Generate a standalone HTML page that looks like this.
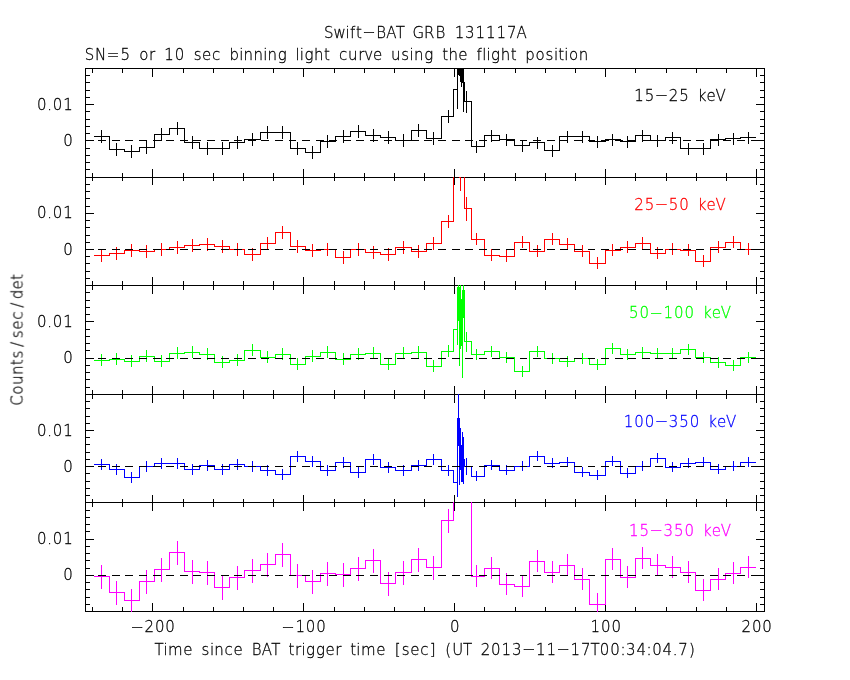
<!DOCTYPE html>
<html lang="en"><head><meta charset="utf-8"><title>Swift-BAT GRB 131117A light curve</title>
<style>
html,body{margin:0;padding:0;background:#fff;}
svg{display:block;}
text{font-family:"DejaVu Sans","DejaVu Sans Light","Liberation Sans",sans-serif;font-weight:200;font-size:15.0px;text-anchor:middle;
font-variant-ligatures:none;stroke-width:0.28px;font-kerning:none;white-space:pre;}
</style></head><body>
<svg width="850" height="680" viewBox="0 0 850 680">
<rect width="850" height="680" fill="#ffffff"/>
<g shape-rendering="crispEdges">
<rect x="85" y="68" width="680" height="1" fill="#000000"/>
<rect x="85" y="177" width="680" height="1" fill="#000000"/>
<rect x="85" y="68" width="1" height="110" fill="#000000"/>
<rect x="764" y="68" width="1" height="110" fill="#000000"/>
<rect x="92" y="69" width="1" height="4" fill="#000000"/>
<rect x="92" y="173" width="1" height="4" fill="#000000"/>
<rect x="122" y="69" width="1" height="4" fill="#000000"/>
<rect x="122" y="173" width="1" height="4" fill="#000000"/>
<rect x="152" y="69" width="1" height="8" fill="#000000"/>
<rect x="152" y="169" width="1" height="8" fill="#000000"/>
<rect x="183" y="69" width="1" height="4" fill="#000000"/>
<rect x="183" y="173" width="1" height="4" fill="#000000"/>
<rect x="213" y="69" width="1" height="4" fill="#000000"/>
<rect x="213" y="173" width="1" height="4" fill="#000000"/>
<rect x="243" y="69" width="1" height="4" fill="#000000"/>
<rect x="243" y="173" width="1" height="4" fill="#000000"/>
<rect x="273" y="69" width="1" height="4" fill="#000000"/>
<rect x="273" y="173" width="1" height="4" fill="#000000"/>
<rect x="303" y="69" width="1" height="8" fill="#000000"/>
<rect x="303" y="169" width="1" height="8" fill="#000000"/>
<rect x="334" y="69" width="1" height="4" fill="#000000"/>
<rect x="334" y="173" width="1" height="4" fill="#000000"/>
<rect x="364" y="69" width="1" height="4" fill="#000000"/>
<rect x="364" y="173" width="1" height="4" fill="#000000"/>
<rect x="394" y="69" width="1" height="4" fill="#000000"/>
<rect x="394" y="173" width="1" height="4" fill="#000000"/>
<rect x="424" y="69" width="1" height="4" fill="#000000"/>
<rect x="424" y="173" width="1" height="4" fill="#000000"/>
<rect x="454" y="69" width="1" height="8" fill="#000000"/>
<rect x="454" y="169" width="1" height="8" fill="#000000"/>
<rect x="484" y="69" width="1" height="4" fill="#000000"/>
<rect x="484" y="173" width="1" height="4" fill="#000000"/>
<rect x="515" y="69" width="1" height="4" fill="#000000"/>
<rect x="515" y="173" width="1" height="4" fill="#000000"/>
<rect x="545" y="69" width="1" height="4" fill="#000000"/>
<rect x="545" y="173" width="1" height="4" fill="#000000"/>
<rect x="575" y="69" width="1" height="4" fill="#000000"/>
<rect x="575" y="173" width="1" height="4" fill="#000000"/>
<rect x="605" y="69" width="1" height="8" fill="#000000"/>
<rect x="605" y="169" width="1" height="8" fill="#000000"/>
<rect x="635" y="69" width="1" height="4" fill="#000000"/>
<rect x="635" y="173" width="1" height="4" fill="#000000"/>
<rect x="666" y="69" width="1" height="4" fill="#000000"/>
<rect x="666" y="173" width="1" height="4" fill="#000000"/>
<rect x="696" y="69" width="1" height="4" fill="#000000"/>
<rect x="696" y="173" width="1" height="4" fill="#000000"/>
<rect x="726" y="69" width="1" height="4" fill="#000000"/>
<rect x="726" y="173" width="1" height="4" fill="#000000"/>
<rect x="756" y="69" width="1" height="8" fill="#000000"/>
<rect x="756" y="169" width="1" height="8" fill="#000000"/>
<rect x="86" y="75" width="4" height="1" fill="#000000"/>
<rect x="760" y="75" width="4" height="1" fill="#000000"/>
<rect x="86" y="82" width="4" height="1" fill="#000000"/>
<rect x="760" y="82" width="4" height="1" fill="#000000"/>
<rect x="86" y="90" width="4" height="1" fill="#000000"/>
<rect x="760" y="90" width="4" height="1" fill="#000000"/>
<rect x="86" y="97" width="4" height="1" fill="#000000"/>
<rect x="760" y="97" width="4" height="1" fill="#000000"/>
<rect x="86" y="104" width="8" height="1" fill="#000000"/>
<rect x="756" y="104" width="8" height="1" fill="#000000"/>
<rect x="86" y="111" width="4" height="1" fill="#000000"/>
<rect x="760" y="111" width="4" height="1" fill="#000000"/>
<rect x="86" y="119" width="4" height="1" fill="#000000"/>
<rect x="760" y="119" width="4" height="1" fill="#000000"/>
<rect x="86" y="126" width="4" height="1" fill="#000000"/>
<rect x="760" y="126" width="4" height="1" fill="#000000"/>
<rect x="86" y="133" width="4" height="1" fill="#000000"/>
<rect x="760" y="133" width="4" height="1" fill="#000000"/>
<rect x="86" y="140" width="8" height="1" fill="#000000"/>
<rect x="756" y="140" width="8" height="1" fill="#000000"/>
<rect x="86" y="148" width="4" height="1" fill="#000000"/>
<rect x="760" y="148" width="4" height="1" fill="#000000"/>
<rect x="86" y="155" width="4" height="1" fill="#000000"/>
<rect x="760" y="155" width="4" height="1" fill="#000000"/>
<rect x="86" y="162" width="4" height="1" fill="#000000"/>
<rect x="760" y="162" width="4" height="1" fill="#000000"/>
<rect x="86" y="169" width="4" height="1" fill="#000000"/>
<rect x="760" y="169" width="4" height="1" fill="#000000"/>
<rect x="94" y="136" width="16" height="1" fill="#000000"/>
<rect x="109" y="149" width="16" height="1" fill="#000000"/>
<rect x="109" y="136" width="1" height="14" fill="#000000"/>
<rect x="124" y="151" width="16" height="1" fill="#000000"/>
<rect x="124" y="149" width="1" height="3" fill="#000000"/>
<rect x="139" y="147" width="16" height="1" fill="#000000"/>
<rect x="139" y="147" width="1" height="5" fill="#000000"/>
<rect x="154" y="134" width="16" height="1" fill="#000000"/>
<rect x="154" y="134" width="1" height="14" fill="#000000"/>
<rect x="169" y="128" width="16" height="1" fill="#000000"/>
<rect x="169" y="128" width="1" height="7" fill="#000000"/>
<rect x="184" y="142" width="16" height="1" fill="#000000"/>
<rect x="184" y="128" width="1" height="15" fill="#000000"/>
<rect x="199" y="148" width="16" height="1" fill="#000000"/>
<rect x="199" y="142" width="1" height="7" fill="#000000"/>
<rect x="214" y="148" width="16" height="1" fill="#000000"/>
<rect x="214" y="148" width="1" height="1" fill="#000000"/>
<rect x="229" y="142" width="16" height="1" fill="#000000"/>
<rect x="229" y="142" width="1" height="7" fill="#000000"/>
<rect x="244" y="139" width="17" height="1" fill="#000000"/>
<rect x="244" y="139" width="1" height="4" fill="#000000"/>
<rect x="260" y="132" width="16" height="1" fill="#000000"/>
<rect x="260" y="132" width="1" height="8" fill="#000000"/>
<rect x="275" y="132" width="16" height="1" fill="#000000"/>
<rect x="275" y="132" width="1" height="1" fill="#000000"/>
<rect x="290" y="148" width="16" height="1" fill="#000000"/>
<rect x="290" y="132" width="1" height="17" fill="#000000"/>
<rect x="305" y="152" width="16" height="1" fill="#000000"/>
<rect x="305" y="148" width="1" height="5" fill="#000000"/>
<rect x="320" y="141" width="16" height="1" fill="#000000"/>
<rect x="320" y="141" width="1" height="12" fill="#000000"/>
<rect x="335" y="136" width="16" height="1" fill="#000000"/>
<rect x="335" y="136" width="1" height="6" fill="#000000"/>
<rect x="350" y="131" width="16" height="1" fill="#000000"/>
<rect x="350" y="131" width="1" height="6" fill="#000000"/>
<rect x="365" y="135" width="16" height="1" fill="#000000"/>
<rect x="365" y="131" width="1" height="5" fill="#000000"/>
<rect x="380" y="137" width="16" height="1" fill="#000000"/>
<rect x="380" y="135" width="1" height="3" fill="#000000"/>
<rect x="395" y="140" width="17" height="1" fill="#000000"/>
<rect x="395" y="137" width="1" height="4" fill="#000000"/>
<rect x="411" y="130" width="16" height="1" fill="#000000"/>
<rect x="411" y="130" width="1" height="11" fill="#000000"/>
<rect x="426" y="138" width="16" height="1" fill="#000000"/>
<rect x="426" y="130" width="1" height="9" fill="#000000"/>
<rect x="441" y="116" width="13" height="1" fill="#000000"/>
<rect x="441" y="116" width="1" height="23" fill="#000000"/>
<rect x="471" y="146" width="14" height="1" fill="#000000"/>
<rect x="484" y="135" width="16" height="1" fill="#000000"/>
<rect x="484" y="135" width="1" height="12" fill="#000000"/>
<rect x="499" y="139" width="16" height="1" fill="#000000"/>
<rect x="499" y="135" width="1" height="5" fill="#000000"/>
<rect x="514" y="145" width="16" height="1" fill="#000000"/>
<rect x="514" y="139" width="1" height="7" fill="#000000"/>
<rect x="529" y="142" width="16" height="1" fill="#000000"/>
<rect x="529" y="142" width="1" height="4" fill="#000000"/>
<rect x="544" y="150" width="16" height="1" fill="#000000"/>
<rect x="544" y="142" width="1" height="9" fill="#000000"/>
<rect x="559" y="136" width="16" height="1" fill="#000000"/>
<rect x="559" y="136" width="1" height="15" fill="#000000"/>
<rect x="574" y="136" width="16" height="1" fill="#000000"/>
<rect x="574" y="136" width="1" height="1" fill="#000000"/>
<rect x="589" y="141" width="17" height="1" fill="#000000"/>
<rect x="589" y="136" width="1" height="6" fill="#000000"/>
<rect x="605" y="139" width="16" height="1" fill="#000000"/>
<rect x="605" y="139" width="1" height="3" fill="#000000"/>
<rect x="620" y="141" width="16" height="1" fill="#000000"/>
<rect x="620" y="139" width="1" height="3" fill="#000000"/>
<rect x="635" y="135" width="16" height="1" fill="#000000"/>
<rect x="635" y="135" width="1" height="7" fill="#000000"/>
<rect x="650" y="140" width="16" height="1" fill="#000000"/>
<rect x="650" y="135" width="1" height="6" fill="#000000"/>
<rect x="665" y="137" width="16" height="1" fill="#000000"/>
<rect x="665" y="137" width="1" height="4" fill="#000000"/>
<rect x="680" y="148" width="16" height="1" fill="#000000"/>
<rect x="680" y="137" width="1" height="12" fill="#000000"/>
<rect x="695" y="148" width="16" height="1" fill="#000000"/>
<rect x="695" y="148" width="1" height="1" fill="#000000"/>
<rect x="710" y="139" width="16" height="1" fill="#000000"/>
<rect x="710" y="139" width="1" height="10" fill="#000000"/>
<rect x="725" y="138" width="16" height="1" fill="#000000"/>
<rect x="725" y="138" width="1" height="2" fill="#000000"/>
<rect x="740" y="137" width="16" height="1" fill="#000000"/>
<rect x="740" y="137" width="1" height="2" fill="#000000"/>
<rect x="101" y="130" width="1" height="13" fill="#000000"/>
<rect x="116" y="143" width="1" height="13" fill="#000000"/>
<rect x="131" y="145" width="1" height="13" fill="#000000"/>
<rect x="146" y="141" width="1" height="13" fill="#000000"/>
<rect x="161" y="128" width="1" height="13" fill="#000000"/>
<rect x="177" y="122" width="1" height="13" fill="#000000"/>
<rect x="192" y="136" width="1" height="13" fill="#000000"/>
<rect x="207" y="142" width="1" height="13" fill="#000000"/>
<rect x="222" y="142" width="1" height="13" fill="#000000"/>
<rect x="237" y="136" width="1" height="13" fill="#000000"/>
<rect x="252" y="133" width="1" height="13" fill="#000000"/>
<rect x="267" y="126" width="1" height="13" fill="#000000"/>
<rect x="282" y="126" width="1" height="13" fill="#000000"/>
<rect x="297" y="142" width="1" height="13" fill="#000000"/>
<rect x="312" y="146" width="1" height="13" fill="#000000"/>
<rect x="327" y="135" width="1" height="13" fill="#000000"/>
<rect x="343" y="130" width="1" height="13" fill="#000000"/>
<rect x="358" y="125" width="1" height="13" fill="#000000"/>
<rect x="373" y="129" width="1" height="13" fill="#000000"/>
<rect x="388" y="131" width="1" height="13" fill="#000000"/>
<rect x="403" y="134" width="1" height="13" fill="#000000"/>
<rect x="418" y="124" width="1" height="13" fill="#000000"/>
<rect x="433" y="132" width="1" height="13" fill="#000000"/>
<rect x="448" y="110" width="1" height="13" fill="#000000"/>
<rect x="476" y="141" width="1" height="12" fill="#000000"/>
<rect x="491" y="130" width="1" height="12" fill="#000000"/>
<rect x="506" y="134" width="1" height="12" fill="#000000"/>
<rect x="522" y="140" width="1" height="12" fill="#000000"/>
<rect x="537" y="137" width="1" height="12" fill="#000000"/>
<rect x="552" y="145" width="1" height="12" fill="#000000"/>
<rect x="567" y="131" width="1" height="12" fill="#000000"/>
<rect x="582" y="131" width="1" height="12" fill="#000000"/>
<rect x="597" y="136" width="1" height="12" fill="#000000"/>
<rect x="612" y="134" width="1" height="12" fill="#000000"/>
<rect x="627" y="136" width="1" height="12" fill="#000000"/>
<rect x="642" y="130" width="1" height="12" fill="#000000"/>
<rect x="657" y="135" width="1" height="12" fill="#000000"/>
<rect x="672" y="132" width="1" height="12" fill="#000000"/>
<rect x="688" y="143" width="1" height="12" fill="#000000"/>
<rect x="703" y="143" width="1" height="12" fill="#000000"/>
<rect x="718" y="134" width="1" height="12" fill="#000000"/>
<rect x="733" y="133" width="1" height="12" fill="#000000"/>
<rect x="748" y="132" width="1" height="12" fill="#000000"/>
<rect x="453" y="89" width="1" height="28" fill="#000000"/>
<rect x="453" y="89" width="5" height="1" fill="#000000"/>
<rect x="457" y="68" width="1" height="41" fill="#000000"/>
<rect x="457" y="68" width="1" height="7" fill="#000000"/>
<rect x="458" y="68" width="1" height="7" fill="#000000"/>
<rect x="459" y="68" width="1" height="8" fill="#000000"/>
<rect x="460" y="68" width="1" height="14" fill="#000000"/>
<rect x="461" y="68" width="1" height="15" fill="#000000"/>
<rect x="462" y="68" width="1" height="15" fill="#000000"/>
<rect x="461" y="82" width="1" height="5" fill="#000000"/>
<rect x="463" y="68" width="1" height="44" fill="#000000"/>
<rect x="464" y="82" width="1" height="20" fill="#000000"/>
<rect x="464" y="101" width="8" height="1" fill="#000000"/>
<rect x="471" y="101" width="1" height="46" fill="#000000"/>
<rect x="466" y="91" width="1" height="22" fill="#000000"/>
<rect x="85" y="140" width="8" height="1" fill="#000000"/>
<rect x="98" y="140" width="8" height="1" fill="#000000"/>
<rect x="112" y="140" width="8" height="1" fill="#000000"/>
<rect x="125" y="140" width="8" height="1" fill="#000000"/>
<rect x="139" y="140" width="8" height="1" fill="#000000"/>
<rect x="153" y="140" width="8" height="1" fill="#000000"/>
<rect x="166" y="140" width="8" height="1" fill="#000000"/>
<rect x="180" y="140" width="8" height="1" fill="#000000"/>
<rect x="193" y="140" width="8" height="1" fill="#000000"/>
<rect x="207" y="140" width="8" height="1" fill="#000000"/>
<rect x="221" y="140" width="8" height="1" fill="#000000"/>
<rect x="234" y="140" width="8" height="1" fill="#000000"/>
<rect x="248" y="140" width="8" height="1" fill="#000000"/>
<rect x="261" y="140" width="8" height="1" fill="#000000"/>
<rect x="275" y="140" width="8" height="1" fill="#000000"/>
<rect x="289" y="140" width="7" height="1" fill="#000000"/>
<rect x="302" y="140" width="8" height="1" fill="#000000"/>
<rect x="316" y="140" width="8" height="1" fill="#000000"/>
<rect x="329" y="140" width="8" height="1" fill="#000000"/>
<rect x="343" y="140" width="8" height="1" fill="#000000"/>
<rect x="356" y="140" width="8" height="1" fill="#000000"/>
<rect x="370" y="140" width="8" height="1" fill="#000000"/>
<rect x="384" y="140" width="8" height="1" fill="#000000"/>
<rect x="397" y="140" width="8" height="1" fill="#000000"/>
<rect x="411" y="140" width="8" height="1" fill="#000000"/>
<rect x="424" y="140" width="8" height="1" fill="#000000"/>
<rect x="438" y="140" width="8" height="1" fill="#000000"/>
<rect x="452" y="140" width="8" height="1" fill="#000000"/>
<rect x="465" y="140" width="8" height="1" fill="#000000"/>
<rect x="479" y="140" width="8" height="1" fill="#000000"/>
<rect x="492" y="140" width="8" height="1" fill="#000000"/>
<rect x="506" y="140" width="8" height="1" fill="#000000"/>
<rect x="520" y="140" width="7" height="1" fill="#000000"/>
<rect x="533" y="140" width="8" height="1" fill="#000000"/>
<rect x="547" y="140" width="8" height="1" fill="#000000"/>
<rect x="560" y="140" width="8" height="1" fill="#000000"/>
<rect x="574" y="140" width="8" height="1" fill="#000000"/>
<rect x="588" y="140" width="7" height="1" fill="#000000"/>
<rect x="601" y="140" width="8" height="1" fill="#000000"/>
<rect x="615" y="140" width="8" height="1" fill="#000000"/>
<rect x="628" y="140" width="8" height="1" fill="#000000"/>
<rect x="642" y="140" width="8" height="1" fill="#000000"/>
<rect x="655" y="140" width="8" height="1" fill="#000000"/>
<rect x="669" y="140" width="8" height="1" fill="#000000"/>
<rect x="683" y="140" width="8" height="1" fill="#000000"/>
<rect x="696" y="140" width="8" height="1" fill="#000000"/>
<rect x="710" y="140" width="8" height="1" fill="#000000"/>
<rect x="723" y="140" width="8" height="1" fill="#000000"/>
<rect x="737" y="140" width="8" height="1" fill="#000000"/>
<rect x="751" y="140" width="8" height="1" fill="#000000"/>
<rect x="85" y="177" width="680" height="1" fill="#000000"/>
<rect x="85" y="285" width="680" height="1" fill="#000000"/>
<rect x="85" y="177" width="1" height="109" fill="#000000"/>
<rect x="764" y="177" width="1" height="109" fill="#000000"/>
<rect x="92" y="178" width="1" height="3" fill="#000000"/>
<rect x="92" y="281" width="1" height="4" fill="#000000"/>
<rect x="122" y="178" width="1" height="3" fill="#000000"/>
<rect x="122" y="281" width="1" height="4" fill="#000000"/>
<rect x="152" y="178" width="1" height="7" fill="#000000"/>
<rect x="152" y="277" width="1" height="8" fill="#000000"/>
<rect x="183" y="178" width="1" height="3" fill="#000000"/>
<rect x="183" y="281" width="1" height="4" fill="#000000"/>
<rect x="213" y="178" width="1" height="3" fill="#000000"/>
<rect x="213" y="281" width="1" height="4" fill="#000000"/>
<rect x="243" y="178" width="1" height="3" fill="#000000"/>
<rect x="243" y="281" width="1" height="4" fill="#000000"/>
<rect x="273" y="178" width="1" height="3" fill="#000000"/>
<rect x="273" y="281" width="1" height="4" fill="#000000"/>
<rect x="303" y="178" width="1" height="7" fill="#000000"/>
<rect x="303" y="277" width="1" height="8" fill="#000000"/>
<rect x="334" y="178" width="1" height="3" fill="#000000"/>
<rect x="334" y="281" width="1" height="4" fill="#000000"/>
<rect x="364" y="178" width="1" height="3" fill="#000000"/>
<rect x="364" y="281" width="1" height="4" fill="#000000"/>
<rect x="394" y="178" width="1" height="3" fill="#000000"/>
<rect x="394" y="281" width="1" height="4" fill="#000000"/>
<rect x="424" y="178" width="1" height="3" fill="#000000"/>
<rect x="424" y="281" width="1" height="4" fill="#000000"/>
<rect x="454" y="178" width="1" height="7" fill="#000000"/>
<rect x="454" y="277" width="1" height="8" fill="#000000"/>
<rect x="484" y="178" width="1" height="3" fill="#000000"/>
<rect x="484" y="281" width="1" height="4" fill="#000000"/>
<rect x="515" y="178" width="1" height="3" fill="#000000"/>
<rect x="515" y="281" width="1" height="4" fill="#000000"/>
<rect x="545" y="178" width="1" height="3" fill="#000000"/>
<rect x="545" y="281" width="1" height="4" fill="#000000"/>
<rect x="575" y="178" width="1" height="3" fill="#000000"/>
<rect x="575" y="281" width="1" height="4" fill="#000000"/>
<rect x="605" y="178" width="1" height="7" fill="#000000"/>
<rect x="605" y="277" width="1" height="8" fill="#000000"/>
<rect x="635" y="178" width="1" height="3" fill="#000000"/>
<rect x="635" y="281" width="1" height="4" fill="#000000"/>
<rect x="666" y="178" width="1" height="3" fill="#000000"/>
<rect x="666" y="281" width="1" height="4" fill="#000000"/>
<rect x="696" y="178" width="1" height="3" fill="#000000"/>
<rect x="696" y="281" width="1" height="4" fill="#000000"/>
<rect x="726" y="178" width="1" height="3" fill="#000000"/>
<rect x="726" y="281" width="1" height="4" fill="#000000"/>
<rect x="756" y="178" width="1" height="7" fill="#000000"/>
<rect x="756" y="277" width="1" height="8" fill="#000000"/>
<rect x="86" y="184" width="4" height="1" fill="#000000"/>
<rect x="760" y="184" width="4" height="1" fill="#000000"/>
<rect x="86" y="191" width="4" height="1" fill="#000000"/>
<rect x="760" y="191" width="4" height="1" fill="#000000"/>
<rect x="86" y="198" width="4" height="1" fill="#000000"/>
<rect x="760" y="198" width="4" height="1" fill="#000000"/>
<rect x="86" y="206" width="4" height="1" fill="#000000"/>
<rect x="760" y="206" width="4" height="1" fill="#000000"/>
<rect x="86" y="213" width="8" height="1" fill="#000000"/>
<rect x="756" y="213" width="8" height="1" fill="#000000"/>
<rect x="86" y="220" width="4" height="1" fill="#000000"/>
<rect x="760" y="220" width="4" height="1" fill="#000000"/>
<rect x="86" y="227" width="4" height="1" fill="#000000"/>
<rect x="760" y="227" width="4" height="1" fill="#000000"/>
<rect x="86" y="235" width="4" height="1" fill="#000000"/>
<rect x="760" y="235" width="4" height="1" fill="#000000"/>
<rect x="86" y="242" width="4" height="1" fill="#000000"/>
<rect x="760" y="242" width="4" height="1" fill="#000000"/>
<rect x="86" y="249" width="8" height="1" fill="#000000"/>
<rect x="756" y="249" width="8" height="1" fill="#000000"/>
<rect x="86" y="256" width="4" height="1" fill="#000000"/>
<rect x="760" y="256" width="4" height="1" fill="#000000"/>
<rect x="86" y="263" width="4" height="1" fill="#000000"/>
<rect x="760" y="263" width="4" height="1" fill="#000000"/>
<rect x="86" y="271" width="4" height="1" fill="#000000"/>
<rect x="760" y="271" width="4" height="1" fill="#000000"/>
<rect x="86" y="278" width="4" height="1" fill="#000000"/>
<rect x="760" y="278" width="4" height="1" fill="#000000"/>
<rect x="94" y="255" width="16" height="1" fill="#ff0000"/>
<rect x="109" y="253" width="16" height="1" fill="#ff0000"/>
<rect x="109" y="253" width="1" height="3" fill="#ff0000"/>
<rect x="124" y="250" width="16" height="1" fill="#ff0000"/>
<rect x="124" y="250" width="1" height="4" fill="#ff0000"/>
<rect x="139" y="251" width="16" height="1" fill="#ff0000"/>
<rect x="139" y="250" width="1" height="2" fill="#ff0000"/>
<rect x="154" y="249" width="16" height="1" fill="#ff0000"/>
<rect x="154" y="249" width="1" height="3" fill="#ff0000"/>
<rect x="169" y="247" width="16" height="1" fill="#ff0000"/>
<rect x="169" y="247" width="1" height="3" fill="#ff0000"/>
<rect x="184" y="245" width="16" height="1" fill="#ff0000"/>
<rect x="184" y="245" width="1" height="3" fill="#ff0000"/>
<rect x="199" y="244" width="16" height="1" fill="#ff0000"/>
<rect x="199" y="244" width="1" height="2" fill="#ff0000"/>
<rect x="214" y="246" width="16" height="1" fill="#ff0000"/>
<rect x="214" y="244" width="1" height="3" fill="#ff0000"/>
<rect x="229" y="249" width="16" height="1" fill="#ff0000"/>
<rect x="229" y="246" width="1" height="4" fill="#ff0000"/>
<rect x="244" y="254" width="17" height="1" fill="#ff0000"/>
<rect x="244" y="249" width="1" height="6" fill="#ff0000"/>
<rect x="260" y="243" width="16" height="1" fill="#ff0000"/>
<rect x="260" y="243" width="1" height="12" fill="#ff0000"/>
<rect x="275" y="232" width="16" height="1" fill="#ff0000"/>
<rect x="275" y="232" width="1" height="12" fill="#ff0000"/>
<rect x="290" y="246" width="16" height="1" fill="#ff0000"/>
<rect x="290" y="232" width="1" height="15" fill="#ff0000"/>
<rect x="305" y="250" width="16" height="1" fill="#ff0000"/>
<rect x="305" y="246" width="1" height="5" fill="#ff0000"/>
<rect x="320" y="249" width="16" height="1" fill="#ff0000"/>
<rect x="320" y="249" width="1" height="2" fill="#ff0000"/>
<rect x="335" y="257" width="16" height="1" fill="#ff0000"/>
<rect x="335" y="249" width="1" height="9" fill="#ff0000"/>
<rect x="350" y="249" width="16" height="1" fill="#ff0000"/>
<rect x="350" y="249" width="1" height="9" fill="#ff0000"/>
<rect x="365" y="252" width="16" height="1" fill="#ff0000"/>
<rect x="365" y="249" width="1" height="4" fill="#ff0000"/>
<rect x="380" y="254" width="16" height="1" fill="#ff0000"/>
<rect x="380" y="252" width="1" height="3" fill="#ff0000"/>
<rect x="395" y="247" width="17" height="1" fill="#ff0000"/>
<rect x="395" y="247" width="1" height="8" fill="#ff0000"/>
<rect x="411" y="251" width="16" height="1" fill="#ff0000"/>
<rect x="411" y="247" width="1" height="5" fill="#ff0000"/>
<rect x="426" y="243" width="16" height="1" fill="#ff0000"/>
<rect x="426" y="243" width="1" height="9" fill="#ff0000"/>
<rect x="441" y="221" width="13" height="1" fill="#ff0000"/>
<rect x="441" y="221" width="1" height="23" fill="#ff0000"/>
<rect x="471" y="239" width="14" height="1" fill="#ff0000"/>
<rect x="484" y="255" width="16" height="1" fill="#ff0000"/>
<rect x="484" y="239" width="1" height="17" fill="#ff0000"/>
<rect x="499" y="256" width="16" height="1" fill="#ff0000"/>
<rect x="499" y="255" width="1" height="2" fill="#ff0000"/>
<rect x="514" y="242" width="16" height="1" fill="#ff0000"/>
<rect x="514" y="242" width="1" height="15" fill="#ff0000"/>
<rect x="529" y="251" width="16" height="1" fill="#ff0000"/>
<rect x="529" y="242" width="1" height="10" fill="#ff0000"/>
<rect x="544" y="239" width="16" height="1" fill="#ff0000"/>
<rect x="544" y="239" width="1" height="13" fill="#ff0000"/>
<rect x="559" y="244" width="16" height="1" fill="#ff0000"/>
<rect x="559" y="239" width="1" height="6" fill="#ff0000"/>
<rect x="574" y="251" width="16" height="1" fill="#ff0000"/>
<rect x="574" y="244" width="1" height="8" fill="#ff0000"/>
<rect x="589" y="263" width="17" height="1" fill="#ff0000"/>
<rect x="589" y="251" width="1" height="13" fill="#ff0000"/>
<rect x="605" y="250" width="16" height="1" fill="#ff0000"/>
<rect x="605" y="250" width="1" height="14" fill="#ff0000"/>
<rect x="620" y="247" width="16" height="1" fill="#ff0000"/>
<rect x="620" y="247" width="1" height="4" fill="#ff0000"/>
<rect x="635" y="243" width="16" height="1" fill="#ff0000"/>
<rect x="635" y="243" width="1" height="5" fill="#ff0000"/>
<rect x="650" y="253" width="16" height="1" fill="#ff0000"/>
<rect x="650" y="243" width="1" height="11" fill="#ff0000"/>
<rect x="665" y="249" width="16" height="1" fill="#ff0000"/>
<rect x="665" y="249" width="1" height="5" fill="#ff0000"/>
<rect x="680" y="250" width="16" height="1" fill="#ff0000"/>
<rect x="680" y="249" width="1" height="2" fill="#ff0000"/>
<rect x="695" y="261" width="16" height="1" fill="#ff0000"/>
<rect x="695" y="250" width="1" height="12" fill="#ff0000"/>
<rect x="710" y="247" width="16" height="1" fill="#ff0000"/>
<rect x="710" y="247" width="1" height="15" fill="#ff0000"/>
<rect x="725" y="242" width="16" height="1" fill="#ff0000"/>
<rect x="725" y="242" width="1" height="6" fill="#ff0000"/>
<rect x="740" y="249" width="16" height="1" fill="#ff0000"/>
<rect x="740" y="242" width="1" height="8" fill="#ff0000"/>
<rect x="101" y="249" width="1" height="13" fill="#ff0000"/>
<rect x="116" y="247" width="1" height="13" fill="#ff0000"/>
<rect x="131" y="244" width="1" height="13" fill="#ff0000"/>
<rect x="146" y="245" width="1" height="13" fill="#ff0000"/>
<rect x="161" y="243" width="1" height="13" fill="#ff0000"/>
<rect x="177" y="241" width="1" height="13" fill="#ff0000"/>
<rect x="192" y="239" width="1" height="13" fill="#ff0000"/>
<rect x="207" y="238" width="1" height="13" fill="#ff0000"/>
<rect x="222" y="240" width="1" height="13" fill="#ff0000"/>
<rect x="237" y="243" width="1" height="13" fill="#ff0000"/>
<rect x="252" y="248" width="1" height="13" fill="#ff0000"/>
<rect x="267" y="237" width="1" height="13" fill="#ff0000"/>
<rect x="282" y="226" width="1" height="13" fill="#ff0000"/>
<rect x="297" y="240" width="1" height="13" fill="#ff0000"/>
<rect x="312" y="244" width="1" height="13" fill="#ff0000"/>
<rect x="327" y="243" width="1" height="13" fill="#ff0000"/>
<rect x="343" y="251" width="1" height="13" fill="#ff0000"/>
<rect x="358" y="243" width="1" height="13" fill="#ff0000"/>
<rect x="373" y="246" width="1" height="13" fill="#ff0000"/>
<rect x="388" y="248" width="1" height="13" fill="#ff0000"/>
<rect x="403" y="241" width="1" height="13" fill="#ff0000"/>
<rect x="418" y="245" width="1" height="13" fill="#ff0000"/>
<rect x="433" y="237" width="1" height="13" fill="#ff0000"/>
<rect x="448" y="215" width="1" height="13" fill="#ff0000"/>
<rect x="476" y="233" width="1" height="12" fill="#ff0000"/>
<rect x="491" y="249" width="1" height="12" fill="#ff0000"/>
<rect x="506" y="250" width="1" height="12" fill="#ff0000"/>
<rect x="522" y="236" width="1" height="12" fill="#ff0000"/>
<rect x="537" y="245" width="1" height="12" fill="#ff0000"/>
<rect x="552" y="233" width="1" height="12" fill="#ff0000"/>
<rect x="567" y="238" width="1" height="12" fill="#ff0000"/>
<rect x="582" y="245" width="1" height="12" fill="#ff0000"/>
<rect x="597" y="257" width="1" height="12" fill="#ff0000"/>
<rect x="612" y="244" width="1" height="12" fill="#ff0000"/>
<rect x="627" y="241" width="1" height="12" fill="#ff0000"/>
<rect x="642" y="237" width="1" height="12" fill="#ff0000"/>
<rect x="657" y="247" width="1" height="12" fill="#ff0000"/>
<rect x="672" y="243" width="1" height="12" fill="#ff0000"/>
<rect x="688" y="244" width="1" height="12" fill="#ff0000"/>
<rect x="703" y="255" width="1" height="12" fill="#ff0000"/>
<rect x="718" y="241" width="1" height="12" fill="#ff0000"/>
<rect x="733" y="236" width="1" height="12" fill="#ff0000"/>
<rect x="748" y="243" width="1" height="12" fill="#ff0000"/>
<rect x="453" y="177" width="1" height="45" fill="#ff0000"/>
<rect x="460" y="177" width="1" height="14" fill="#ff0000"/>
<rect x="459" y="177" width="2" height="1" fill="#ff0000"/>
<rect x="464" y="177" width="1" height="32" fill="#ff0000"/>
<rect x="464" y="208" width="8" height="1" fill="#ff0000"/>
<rect x="471" y="208" width="1" height="32" fill="#ff0000"/>
<rect x="466" y="197" width="1" height="24" fill="#ff0000"/>
<rect x="85" y="249" width="8" height="1" fill="#000000"/>
<rect x="98" y="249" width="8" height="1" fill="#000000"/>
<rect x="112" y="249" width="8" height="1" fill="#000000"/>
<rect x="125" y="249" width="8" height="1" fill="#000000"/>
<rect x="139" y="249" width="8" height="1" fill="#000000"/>
<rect x="153" y="249" width="8" height="1" fill="#000000"/>
<rect x="166" y="249" width="8" height="1" fill="#000000"/>
<rect x="180" y="249" width="8" height="1" fill="#000000"/>
<rect x="193" y="249" width="8" height="1" fill="#000000"/>
<rect x="207" y="249" width="8" height="1" fill="#000000"/>
<rect x="221" y="249" width="8" height="1" fill="#000000"/>
<rect x="234" y="249" width="8" height="1" fill="#000000"/>
<rect x="248" y="249" width="8" height="1" fill="#000000"/>
<rect x="261" y="249" width="8" height="1" fill="#000000"/>
<rect x="275" y="249" width="8" height="1" fill="#000000"/>
<rect x="289" y="249" width="7" height="1" fill="#000000"/>
<rect x="302" y="249" width="8" height="1" fill="#000000"/>
<rect x="316" y="249" width="8" height="1" fill="#000000"/>
<rect x="329" y="249" width="8" height="1" fill="#000000"/>
<rect x="343" y="249" width="8" height="1" fill="#000000"/>
<rect x="356" y="249" width="8" height="1" fill="#000000"/>
<rect x="370" y="249" width="8" height="1" fill="#000000"/>
<rect x="384" y="249" width="8" height="1" fill="#000000"/>
<rect x="397" y="249" width="8" height="1" fill="#000000"/>
<rect x="411" y="249" width="8" height="1" fill="#000000"/>
<rect x="424" y="249" width="8" height="1" fill="#000000"/>
<rect x="438" y="249" width="8" height="1" fill="#000000"/>
<rect x="452" y="249" width="8" height="1" fill="#000000"/>
<rect x="465" y="249" width="8" height="1" fill="#000000"/>
<rect x="479" y="249" width="8" height="1" fill="#000000"/>
<rect x="492" y="249" width="8" height="1" fill="#000000"/>
<rect x="506" y="249" width="8" height="1" fill="#000000"/>
<rect x="520" y="249" width="7" height="1" fill="#000000"/>
<rect x="533" y="249" width="8" height="1" fill="#000000"/>
<rect x="547" y="249" width="8" height="1" fill="#000000"/>
<rect x="560" y="249" width="8" height="1" fill="#000000"/>
<rect x="574" y="249" width="8" height="1" fill="#000000"/>
<rect x="588" y="249" width="7" height="1" fill="#000000"/>
<rect x="601" y="249" width="8" height="1" fill="#000000"/>
<rect x="615" y="249" width="8" height="1" fill="#000000"/>
<rect x="628" y="249" width="8" height="1" fill="#000000"/>
<rect x="642" y="249" width="8" height="1" fill="#000000"/>
<rect x="655" y="249" width="8" height="1" fill="#000000"/>
<rect x="669" y="249" width="8" height="1" fill="#000000"/>
<rect x="683" y="249" width="8" height="1" fill="#000000"/>
<rect x="696" y="249" width="8" height="1" fill="#000000"/>
<rect x="710" y="249" width="8" height="1" fill="#000000"/>
<rect x="723" y="249" width="8" height="1" fill="#000000"/>
<rect x="737" y="249" width="8" height="1" fill="#000000"/>
<rect x="751" y="249" width="8" height="1" fill="#000000"/>
<rect x="85" y="285" width="680" height="1" fill="#000000"/>
<rect x="85" y="394" width="680" height="1" fill="#000000"/>
<rect x="85" y="285" width="1" height="110" fill="#000000"/>
<rect x="764" y="285" width="1" height="110" fill="#000000"/>
<rect x="92" y="286" width="1" height="4" fill="#000000"/>
<rect x="92" y="390" width="1" height="4" fill="#000000"/>
<rect x="122" y="286" width="1" height="4" fill="#000000"/>
<rect x="122" y="390" width="1" height="4" fill="#000000"/>
<rect x="152" y="286" width="1" height="8" fill="#000000"/>
<rect x="152" y="386" width="1" height="8" fill="#000000"/>
<rect x="183" y="286" width="1" height="4" fill="#000000"/>
<rect x="183" y="390" width="1" height="4" fill="#000000"/>
<rect x="213" y="286" width="1" height="4" fill="#000000"/>
<rect x="213" y="390" width="1" height="4" fill="#000000"/>
<rect x="243" y="286" width="1" height="4" fill="#000000"/>
<rect x="243" y="390" width="1" height="4" fill="#000000"/>
<rect x="273" y="286" width="1" height="4" fill="#000000"/>
<rect x="273" y="390" width="1" height="4" fill="#000000"/>
<rect x="303" y="286" width="1" height="8" fill="#000000"/>
<rect x="303" y="386" width="1" height="8" fill="#000000"/>
<rect x="334" y="286" width="1" height="4" fill="#000000"/>
<rect x="334" y="390" width="1" height="4" fill="#000000"/>
<rect x="364" y="286" width="1" height="4" fill="#000000"/>
<rect x="364" y="390" width="1" height="4" fill="#000000"/>
<rect x="394" y="286" width="1" height="4" fill="#000000"/>
<rect x="394" y="390" width="1" height="4" fill="#000000"/>
<rect x="424" y="286" width="1" height="4" fill="#000000"/>
<rect x="424" y="390" width="1" height="4" fill="#000000"/>
<rect x="454" y="286" width="1" height="8" fill="#000000"/>
<rect x="454" y="386" width="1" height="8" fill="#000000"/>
<rect x="484" y="286" width="1" height="4" fill="#000000"/>
<rect x="484" y="390" width="1" height="4" fill="#000000"/>
<rect x="515" y="286" width="1" height="4" fill="#000000"/>
<rect x="515" y="390" width="1" height="4" fill="#000000"/>
<rect x="545" y="286" width="1" height="4" fill="#000000"/>
<rect x="545" y="390" width="1" height="4" fill="#000000"/>
<rect x="575" y="286" width="1" height="4" fill="#000000"/>
<rect x="575" y="390" width="1" height="4" fill="#000000"/>
<rect x="605" y="286" width="1" height="8" fill="#000000"/>
<rect x="605" y="386" width="1" height="8" fill="#000000"/>
<rect x="635" y="286" width="1" height="4" fill="#000000"/>
<rect x="635" y="390" width="1" height="4" fill="#000000"/>
<rect x="666" y="286" width="1" height="4" fill="#000000"/>
<rect x="666" y="390" width="1" height="4" fill="#000000"/>
<rect x="696" y="286" width="1" height="4" fill="#000000"/>
<rect x="696" y="390" width="1" height="4" fill="#000000"/>
<rect x="726" y="286" width="1" height="4" fill="#000000"/>
<rect x="726" y="390" width="1" height="4" fill="#000000"/>
<rect x="756" y="286" width="1" height="8" fill="#000000"/>
<rect x="756" y="386" width="1" height="8" fill="#000000"/>
<rect x="86" y="292" width="4" height="1" fill="#000000"/>
<rect x="760" y="292" width="4" height="1" fill="#000000"/>
<rect x="86" y="300" width="4" height="1" fill="#000000"/>
<rect x="760" y="300" width="4" height="1" fill="#000000"/>
<rect x="86" y="307" width="4" height="1" fill="#000000"/>
<rect x="760" y="307" width="4" height="1" fill="#000000"/>
<rect x="86" y="314" width="4" height="1" fill="#000000"/>
<rect x="760" y="314" width="4" height="1" fill="#000000"/>
<rect x="86" y="321" width="8" height="1" fill="#000000"/>
<rect x="756" y="321" width="8" height="1" fill="#000000"/>
<rect x="86" y="329" width="4" height="1" fill="#000000"/>
<rect x="760" y="329" width="4" height="1" fill="#000000"/>
<rect x="86" y="336" width="4" height="1" fill="#000000"/>
<rect x="760" y="336" width="4" height="1" fill="#000000"/>
<rect x="86" y="343" width="4" height="1" fill="#000000"/>
<rect x="760" y="343" width="4" height="1" fill="#000000"/>
<rect x="86" y="350" width="4" height="1" fill="#000000"/>
<rect x="760" y="350" width="4" height="1" fill="#000000"/>
<rect x="86" y="358" width="8" height="1" fill="#000000"/>
<rect x="756" y="358" width="8" height="1" fill="#000000"/>
<rect x="86" y="365" width="4" height="1" fill="#000000"/>
<rect x="760" y="365" width="4" height="1" fill="#000000"/>
<rect x="86" y="372" width="4" height="1" fill="#000000"/>
<rect x="760" y="372" width="4" height="1" fill="#000000"/>
<rect x="86" y="379" width="4" height="1" fill="#000000"/>
<rect x="760" y="379" width="4" height="1" fill="#000000"/>
<rect x="86" y="387" width="4" height="1" fill="#000000"/>
<rect x="760" y="387" width="4" height="1" fill="#000000"/>
<rect x="94" y="360" width="16" height="1" fill="#00ff00"/>
<rect x="109" y="359" width="16" height="1" fill="#00ff00"/>
<rect x="109" y="359" width="1" height="2" fill="#00ff00"/>
<rect x="124" y="361" width="16" height="1" fill="#00ff00"/>
<rect x="124" y="359" width="1" height="3" fill="#00ff00"/>
<rect x="139" y="356" width="16" height="1" fill="#00ff00"/>
<rect x="139" y="356" width="1" height="6" fill="#00ff00"/>
<rect x="154" y="361" width="16" height="1" fill="#00ff00"/>
<rect x="154" y="356" width="1" height="6" fill="#00ff00"/>
<rect x="169" y="353" width="16" height="1" fill="#00ff00"/>
<rect x="169" y="353" width="1" height="9" fill="#00ff00"/>
<rect x="184" y="352" width="16" height="1" fill="#00ff00"/>
<rect x="184" y="352" width="1" height="2" fill="#00ff00"/>
<rect x="199" y="354" width="16" height="1" fill="#00ff00"/>
<rect x="199" y="352" width="1" height="3" fill="#00ff00"/>
<rect x="214" y="362" width="16" height="1" fill="#00ff00"/>
<rect x="214" y="354" width="1" height="9" fill="#00ff00"/>
<rect x="229" y="360" width="16" height="1" fill="#00ff00"/>
<rect x="229" y="360" width="1" height="3" fill="#00ff00"/>
<rect x="244" y="350" width="17" height="1" fill="#00ff00"/>
<rect x="244" y="350" width="1" height="11" fill="#00ff00"/>
<rect x="260" y="357" width="16" height="1" fill="#00ff00"/>
<rect x="260" y="350" width="1" height="8" fill="#00ff00"/>
<rect x="275" y="354" width="16" height="1" fill="#00ff00"/>
<rect x="275" y="354" width="1" height="4" fill="#00ff00"/>
<rect x="290" y="364" width="16" height="1" fill="#00ff00"/>
<rect x="290" y="354" width="1" height="11" fill="#00ff00"/>
<rect x="305" y="356" width="16" height="1" fill="#00ff00"/>
<rect x="305" y="356" width="1" height="9" fill="#00ff00"/>
<rect x="320" y="352" width="16" height="1" fill="#00ff00"/>
<rect x="320" y="352" width="1" height="5" fill="#00ff00"/>
<rect x="335" y="359" width="16" height="1" fill="#00ff00"/>
<rect x="335" y="352" width="1" height="8" fill="#00ff00"/>
<rect x="350" y="354" width="16" height="1" fill="#00ff00"/>
<rect x="350" y="354" width="1" height="6" fill="#00ff00"/>
<rect x="365" y="353" width="16" height="1" fill="#00ff00"/>
<rect x="365" y="353" width="1" height="2" fill="#00ff00"/>
<rect x="380" y="364" width="16" height="1" fill="#00ff00"/>
<rect x="380" y="353" width="1" height="12" fill="#00ff00"/>
<rect x="395" y="353" width="17" height="1" fill="#00ff00"/>
<rect x="395" y="353" width="1" height="12" fill="#00ff00"/>
<rect x="411" y="352" width="16" height="1" fill="#00ff00"/>
<rect x="411" y="352" width="1" height="2" fill="#00ff00"/>
<rect x="426" y="366" width="16" height="1" fill="#00ff00"/>
<rect x="426" y="352" width="1" height="15" fill="#00ff00"/>
<rect x="441" y="351" width="13" height="1" fill="#00ff00"/>
<rect x="441" y="351" width="1" height="16" fill="#00ff00"/>
<rect x="471" y="354" width="14" height="1" fill="#00ff00"/>
<rect x="484" y="351" width="16" height="1" fill="#00ff00"/>
<rect x="484" y="351" width="1" height="4" fill="#00ff00"/>
<rect x="499" y="357" width="16" height="1" fill="#00ff00"/>
<rect x="499" y="351" width="1" height="7" fill="#00ff00"/>
<rect x="514" y="371" width="16" height="1" fill="#00ff00"/>
<rect x="514" y="357" width="1" height="15" fill="#00ff00"/>
<rect x="529" y="351" width="16" height="1" fill="#00ff00"/>
<rect x="529" y="351" width="1" height="21" fill="#00ff00"/>
<rect x="544" y="358" width="16" height="1" fill="#00ff00"/>
<rect x="544" y="351" width="1" height="8" fill="#00ff00"/>
<rect x="559" y="361" width="16" height="1" fill="#00ff00"/>
<rect x="559" y="358" width="1" height="4" fill="#00ff00"/>
<rect x="574" y="358" width="16" height="1" fill="#00ff00"/>
<rect x="574" y="358" width="1" height="4" fill="#00ff00"/>
<rect x="589" y="364" width="17" height="1" fill="#00ff00"/>
<rect x="589" y="358" width="1" height="7" fill="#00ff00"/>
<rect x="605" y="348" width="16" height="1" fill="#00ff00"/>
<rect x="605" y="348" width="1" height="17" fill="#00ff00"/>
<rect x="620" y="354" width="16" height="1" fill="#00ff00"/>
<rect x="620" y="348" width="1" height="7" fill="#00ff00"/>
<rect x="635" y="352" width="16" height="1" fill="#00ff00"/>
<rect x="635" y="352" width="1" height="3" fill="#00ff00"/>
<rect x="650" y="353" width="16" height="1" fill="#00ff00"/>
<rect x="650" y="352" width="1" height="2" fill="#00ff00"/>
<rect x="665" y="353" width="16" height="1" fill="#00ff00"/>
<rect x="665" y="353" width="1" height="1" fill="#00ff00"/>
<rect x="680" y="349" width="16" height="1" fill="#00ff00"/>
<rect x="680" y="349" width="1" height="5" fill="#00ff00"/>
<rect x="695" y="357" width="16" height="1" fill="#00ff00"/>
<rect x="695" y="349" width="1" height="9" fill="#00ff00"/>
<rect x="710" y="362" width="16" height="1" fill="#00ff00"/>
<rect x="710" y="357" width="1" height="6" fill="#00ff00"/>
<rect x="725" y="365" width="16" height="1" fill="#00ff00"/>
<rect x="725" y="362" width="1" height="4" fill="#00ff00"/>
<rect x="740" y="357" width="16" height="1" fill="#00ff00"/>
<rect x="740" y="357" width="1" height="9" fill="#00ff00"/>
<rect x="101" y="354" width="1" height="12" fill="#00ff00"/>
<rect x="116" y="353" width="1" height="12" fill="#00ff00"/>
<rect x="131" y="355" width="1" height="12" fill="#00ff00"/>
<rect x="146" y="350" width="1" height="12" fill="#00ff00"/>
<rect x="161" y="355" width="1" height="12" fill="#00ff00"/>
<rect x="177" y="347" width="1" height="12" fill="#00ff00"/>
<rect x="192" y="346" width="1" height="12" fill="#00ff00"/>
<rect x="207" y="348" width="1" height="12" fill="#00ff00"/>
<rect x="222" y="356" width="1" height="12" fill="#00ff00"/>
<rect x="237" y="354" width="1" height="12" fill="#00ff00"/>
<rect x="252" y="344" width="1" height="12" fill="#00ff00"/>
<rect x="267" y="351" width="1" height="12" fill="#00ff00"/>
<rect x="282" y="348" width="1" height="12" fill="#00ff00"/>
<rect x="297" y="358" width="1" height="12" fill="#00ff00"/>
<rect x="312" y="350" width="1" height="12" fill="#00ff00"/>
<rect x="327" y="346" width="1" height="12" fill="#00ff00"/>
<rect x="343" y="353" width="1" height="12" fill="#00ff00"/>
<rect x="358" y="348" width="1" height="12" fill="#00ff00"/>
<rect x="373" y="347" width="1" height="12" fill="#00ff00"/>
<rect x="388" y="358" width="1" height="12" fill="#00ff00"/>
<rect x="403" y="347" width="1" height="12" fill="#00ff00"/>
<rect x="418" y="346" width="1" height="12" fill="#00ff00"/>
<rect x="433" y="360" width="1" height="12" fill="#00ff00"/>
<rect x="448" y="345" width="1" height="12" fill="#00ff00"/>
<rect x="476" y="349" width="1" height="11" fill="#00ff00"/>
<rect x="491" y="346" width="1" height="11" fill="#00ff00"/>
<rect x="506" y="352" width="1" height="11" fill="#00ff00"/>
<rect x="522" y="366" width="1" height="11" fill="#00ff00"/>
<rect x="537" y="346" width="1" height="11" fill="#00ff00"/>
<rect x="552" y="353" width="1" height="11" fill="#00ff00"/>
<rect x="567" y="356" width="1" height="11" fill="#00ff00"/>
<rect x="582" y="353" width="1" height="11" fill="#00ff00"/>
<rect x="597" y="359" width="1" height="11" fill="#00ff00"/>
<rect x="612" y="343" width="1" height="11" fill="#00ff00"/>
<rect x="627" y="349" width="1" height="11" fill="#00ff00"/>
<rect x="642" y="347" width="1" height="11" fill="#00ff00"/>
<rect x="657" y="348" width="1" height="11" fill="#00ff00"/>
<rect x="672" y="348" width="1" height="11" fill="#00ff00"/>
<rect x="688" y="344" width="1" height="11" fill="#00ff00"/>
<rect x="703" y="352" width="1" height="11" fill="#00ff00"/>
<rect x="718" y="357" width="1" height="11" fill="#00ff00"/>
<rect x="733" y="360" width="1" height="11" fill="#00ff00"/>
<rect x="748" y="352" width="1" height="11" fill="#00ff00"/>
<rect x="453" y="329" width="1" height="23" fill="#00ff00"/>
<rect x="453" y="329" width="5" height="1" fill="#00ff00"/>
<rect x="457" y="287" width="1" height="58" fill="#00ff00"/>
<rect x="458" y="285" width="1" height="36" fill="#00ff00"/>
<rect x="459" y="287" width="1" height="79" fill="#00ff00"/>
<rect x="460" y="285" width="1" height="64" fill="#00ff00"/>
<rect x="461" y="299" width="1" height="47" fill="#00ff00"/>
<rect x="462" y="290" width="1" height="88" fill="#00ff00"/>
<rect x="463" y="285" width="1" height="33" fill="#00ff00"/>
<rect x="464" y="290" width="1" height="52" fill="#00ff00"/>
<rect x="464" y="341" width="8" height="1" fill="#00ff00"/>
<rect x="471" y="341" width="1" height="14" fill="#00ff00"/>
<rect x="466" y="332" width="1" height="20" fill="#00ff00"/>
<rect x="85" y="358" width="8" height="1" fill="#000000"/>
<rect x="98" y="358" width="8" height="1" fill="#000000"/>
<rect x="112" y="358" width="8" height="1" fill="#000000"/>
<rect x="125" y="358" width="8" height="1" fill="#000000"/>
<rect x="139" y="358" width="8" height="1" fill="#000000"/>
<rect x="153" y="358" width="8" height="1" fill="#000000"/>
<rect x="166" y="358" width="8" height="1" fill="#000000"/>
<rect x="180" y="358" width="8" height="1" fill="#000000"/>
<rect x="193" y="358" width="8" height="1" fill="#000000"/>
<rect x="207" y="358" width="8" height="1" fill="#000000"/>
<rect x="221" y="358" width="8" height="1" fill="#000000"/>
<rect x="234" y="358" width="8" height="1" fill="#000000"/>
<rect x="248" y="358" width="8" height="1" fill="#000000"/>
<rect x="261" y="358" width="8" height="1" fill="#000000"/>
<rect x="275" y="358" width="8" height="1" fill="#000000"/>
<rect x="289" y="358" width="7" height="1" fill="#000000"/>
<rect x="302" y="358" width="8" height="1" fill="#000000"/>
<rect x="316" y="358" width="8" height="1" fill="#000000"/>
<rect x="329" y="358" width="8" height="1" fill="#000000"/>
<rect x="343" y="358" width="8" height="1" fill="#000000"/>
<rect x="356" y="358" width="8" height="1" fill="#000000"/>
<rect x="370" y="358" width="8" height="1" fill="#000000"/>
<rect x="384" y="358" width="8" height="1" fill="#000000"/>
<rect x="397" y="358" width="8" height="1" fill="#000000"/>
<rect x="411" y="358" width="8" height="1" fill="#000000"/>
<rect x="424" y="358" width="8" height="1" fill="#000000"/>
<rect x="438" y="358" width="8" height="1" fill="#000000"/>
<rect x="452" y="358" width="8" height="1" fill="#000000"/>
<rect x="465" y="358" width="8" height="1" fill="#000000"/>
<rect x="479" y="358" width="8" height="1" fill="#000000"/>
<rect x="492" y="358" width="8" height="1" fill="#000000"/>
<rect x="506" y="358" width="8" height="1" fill="#000000"/>
<rect x="520" y="358" width="7" height="1" fill="#000000"/>
<rect x="533" y="358" width="8" height="1" fill="#000000"/>
<rect x="547" y="358" width="8" height="1" fill="#000000"/>
<rect x="560" y="358" width="8" height="1" fill="#000000"/>
<rect x="574" y="358" width="8" height="1" fill="#000000"/>
<rect x="588" y="358" width="7" height="1" fill="#000000"/>
<rect x="601" y="358" width="8" height="1" fill="#000000"/>
<rect x="615" y="358" width="8" height="1" fill="#000000"/>
<rect x="628" y="358" width="8" height="1" fill="#000000"/>
<rect x="642" y="358" width="8" height="1" fill="#000000"/>
<rect x="655" y="358" width="8" height="1" fill="#000000"/>
<rect x="669" y="358" width="8" height="1" fill="#000000"/>
<rect x="683" y="358" width="8" height="1" fill="#000000"/>
<rect x="696" y="358" width="8" height="1" fill="#000000"/>
<rect x="710" y="358" width="8" height="1" fill="#000000"/>
<rect x="723" y="358" width="8" height="1" fill="#000000"/>
<rect x="737" y="358" width="8" height="1" fill="#000000"/>
<rect x="751" y="358" width="8" height="1" fill="#000000"/>
<rect x="85" y="394" width="680" height="1" fill="#000000"/>
<rect x="85" y="502" width="680" height="1" fill="#000000"/>
<rect x="85" y="394" width="1" height="109" fill="#000000"/>
<rect x="764" y="394" width="1" height="109" fill="#000000"/>
<rect x="92" y="395" width="1" height="4" fill="#000000"/>
<rect x="92" y="499" width="1" height="3" fill="#000000"/>
<rect x="122" y="395" width="1" height="4" fill="#000000"/>
<rect x="122" y="499" width="1" height="3" fill="#000000"/>
<rect x="152" y="395" width="1" height="8" fill="#000000"/>
<rect x="152" y="495" width="1" height="7" fill="#000000"/>
<rect x="183" y="395" width="1" height="4" fill="#000000"/>
<rect x="183" y="499" width="1" height="3" fill="#000000"/>
<rect x="213" y="395" width="1" height="4" fill="#000000"/>
<rect x="213" y="499" width="1" height="3" fill="#000000"/>
<rect x="243" y="395" width="1" height="4" fill="#000000"/>
<rect x="243" y="499" width="1" height="3" fill="#000000"/>
<rect x="273" y="395" width="1" height="4" fill="#000000"/>
<rect x="273" y="499" width="1" height="3" fill="#000000"/>
<rect x="303" y="395" width="1" height="8" fill="#000000"/>
<rect x="303" y="495" width="1" height="7" fill="#000000"/>
<rect x="334" y="395" width="1" height="4" fill="#000000"/>
<rect x="334" y="499" width="1" height="3" fill="#000000"/>
<rect x="364" y="395" width="1" height="4" fill="#000000"/>
<rect x="364" y="499" width="1" height="3" fill="#000000"/>
<rect x="394" y="395" width="1" height="4" fill="#000000"/>
<rect x="394" y="499" width="1" height="3" fill="#000000"/>
<rect x="424" y="395" width="1" height="4" fill="#000000"/>
<rect x="424" y="499" width="1" height="3" fill="#000000"/>
<rect x="454" y="395" width="1" height="8" fill="#000000"/>
<rect x="454" y="495" width="1" height="7" fill="#000000"/>
<rect x="484" y="395" width="1" height="4" fill="#000000"/>
<rect x="484" y="499" width="1" height="3" fill="#000000"/>
<rect x="515" y="395" width="1" height="4" fill="#000000"/>
<rect x="515" y="499" width="1" height="3" fill="#000000"/>
<rect x="545" y="395" width="1" height="4" fill="#000000"/>
<rect x="545" y="499" width="1" height="3" fill="#000000"/>
<rect x="575" y="395" width="1" height="4" fill="#000000"/>
<rect x="575" y="499" width="1" height="3" fill="#000000"/>
<rect x="605" y="395" width="1" height="8" fill="#000000"/>
<rect x="605" y="495" width="1" height="7" fill="#000000"/>
<rect x="635" y="395" width="1" height="4" fill="#000000"/>
<rect x="635" y="499" width="1" height="3" fill="#000000"/>
<rect x="666" y="395" width="1" height="4" fill="#000000"/>
<rect x="666" y="499" width="1" height="3" fill="#000000"/>
<rect x="696" y="395" width="1" height="4" fill="#000000"/>
<rect x="696" y="499" width="1" height="3" fill="#000000"/>
<rect x="726" y="395" width="1" height="4" fill="#000000"/>
<rect x="726" y="499" width="1" height="3" fill="#000000"/>
<rect x="756" y="395" width="1" height="8" fill="#000000"/>
<rect x="756" y="495" width="1" height="7" fill="#000000"/>
<rect x="86" y="401" width="4" height="1" fill="#000000"/>
<rect x="760" y="401" width="4" height="1" fill="#000000"/>
<rect x="86" y="408" width="4" height="1" fill="#000000"/>
<rect x="760" y="408" width="4" height="1" fill="#000000"/>
<rect x="86" y="416" width="4" height="1" fill="#000000"/>
<rect x="760" y="416" width="4" height="1" fill="#000000"/>
<rect x="86" y="423" width="4" height="1" fill="#000000"/>
<rect x="760" y="423" width="4" height="1" fill="#000000"/>
<rect x="86" y="430" width="8" height="1" fill="#000000"/>
<rect x="756" y="430" width="8" height="1" fill="#000000"/>
<rect x="86" y="437" width="4" height="1" fill="#000000"/>
<rect x="760" y="437" width="4" height="1" fill="#000000"/>
<rect x="86" y="444" width="4" height="1" fill="#000000"/>
<rect x="760" y="444" width="4" height="1" fill="#000000"/>
<rect x="86" y="452" width="4" height="1" fill="#000000"/>
<rect x="760" y="452" width="4" height="1" fill="#000000"/>
<rect x="86" y="459" width="4" height="1" fill="#000000"/>
<rect x="760" y="459" width="4" height="1" fill="#000000"/>
<rect x="86" y="466" width="8" height="1" fill="#000000"/>
<rect x="756" y="466" width="8" height="1" fill="#000000"/>
<rect x="86" y="473" width="4" height="1" fill="#000000"/>
<rect x="760" y="473" width="4" height="1" fill="#000000"/>
<rect x="86" y="481" width="4" height="1" fill="#000000"/>
<rect x="760" y="481" width="4" height="1" fill="#000000"/>
<rect x="86" y="488" width="4" height="1" fill="#000000"/>
<rect x="760" y="488" width="4" height="1" fill="#000000"/>
<rect x="86" y="495" width="4" height="1" fill="#000000"/>
<rect x="760" y="495" width="4" height="1" fill="#000000"/>
<rect x="94" y="464" width="16" height="1" fill="#0000ff"/>
<rect x="109" y="469" width="16" height="1" fill="#0000ff"/>
<rect x="109" y="464" width="1" height="6" fill="#0000ff"/>
<rect x="124" y="477" width="16" height="1" fill="#0000ff"/>
<rect x="124" y="469" width="1" height="9" fill="#0000ff"/>
<rect x="139" y="466" width="16" height="1" fill="#0000ff"/>
<rect x="139" y="466" width="1" height="12" fill="#0000ff"/>
<rect x="154" y="463" width="16" height="1" fill="#0000ff"/>
<rect x="154" y="463" width="1" height="4" fill="#0000ff"/>
<rect x="169" y="463" width="16" height="1" fill="#0000ff"/>
<rect x="169" y="463" width="1" height="1" fill="#0000ff"/>
<rect x="184" y="469" width="16" height="1" fill="#0000ff"/>
<rect x="184" y="463" width="1" height="7" fill="#0000ff"/>
<rect x="199" y="465" width="16" height="1" fill="#0000ff"/>
<rect x="199" y="465" width="1" height="5" fill="#0000ff"/>
<rect x="214" y="469" width="16" height="1" fill="#0000ff"/>
<rect x="214" y="465" width="1" height="5" fill="#0000ff"/>
<rect x="229" y="464" width="16" height="1" fill="#0000ff"/>
<rect x="229" y="464" width="1" height="6" fill="#0000ff"/>
<rect x="244" y="466" width="17" height="1" fill="#0000ff"/>
<rect x="244" y="464" width="1" height="3" fill="#0000ff"/>
<rect x="260" y="470" width="16" height="1" fill="#0000ff"/>
<rect x="260" y="466" width="1" height="5" fill="#0000ff"/>
<rect x="275" y="474" width="16" height="1" fill="#0000ff"/>
<rect x="275" y="470" width="1" height="5" fill="#0000ff"/>
<rect x="290" y="456" width="16" height="1" fill="#0000ff"/>
<rect x="290" y="456" width="1" height="19" fill="#0000ff"/>
<rect x="305" y="461" width="16" height="1" fill="#0000ff"/>
<rect x="305" y="456" width="1" height="6" fill="#0000ff"/>
<rect x="320" y="470" width="16" height="1" fill="#0000ff"/>
<rect x="320" y="461" width="1" height="10" fill="#0000ff"/>
<rect x="335" y="462" width="16" height="1" fill="#0000ff"/>
<rect x="335" y="462" width="1" height="9" fill="#0000ff"/>
<rect x="350" y="472" width="16" height="1" fill="#0000ff"/>
<rect x="350" y="462" width="1" height="11" fill="#0000ff"/>
<rect x="365" y="459" width="16" height="1" fill="#0000ff"/>
<rect x="365" y="459" width="1" height="14" fill="#0000ff"/>
<rect x="380" y="467" width="16" height="1" fill="#0000ff"/>
<rect x="380" y="459" width="1" height="9" fill="#0000ff"/>
<rect x="395" y="470" width="17" height="1" fill="#0000ff"/>
<rect x="395" y="467" width="1" height="4" fill="#0000ff"/>
<rect x="411" y="465" width="16" height="1" fill="#0000ff"/>
<rect x="411" y="465" width="1" height="6" fill="#0000ff"/>
<rect x="426" y="459" width="16" height="1" fill="#0000ff"/>
<rect x="426" y="459" width="1" height="7" fill="#0000ff"/>
<rect x="441" y="470" width="13" height="1" fill="#0000ff"/>
<rect x="441" y="459" width="1" height="12" fill="#0000ff"/>
<rect x="471" y="476" width="14" height="1" fill="#0000ff"/>
<rect x="484" y="465" width="16" height="1" fill="#0000ff"/>
<rect x="484" y="465" width="1" height="12" fill="#0000ff"/>
<rect x="499" y="470" width="16" height="1" fill="#0000ff"/>
<rect x="499" y="465" width="1" height="6" fill="#0000ff"/>
<rect x="514" y="466" width="16" height="1" fill="#0000ff"/>
<rect x="514" y="466" width="1" height="5" fill="#0000ff"/>
<rect x="529" y="456" width="16" height="1" fill="#0000ff"/>
<rect x="529" y="456" width="1" height="11" fill="#0000ff"/>
<rect x="544" y="463" width="16" height="1" fill="#0000ff"/>
<rect x="544" y="456" width="1" height="8" fill="#0000ff"/>
<rect x="559" y="462" width="16" height="1" fill="#0000ff"/>
<rect x="559" y="462" width="1" height="2" fill="#0000ff"/>
<rect x="574" y="472" width="16" height="1" fill="#0000ff"/>
<rect x="574" y="462" width="1" height="11" fill="#0000ff"/>
<rect x="589" y="475" width="17" height="1" fill="#0000ff"/>
<rect x="589" y="472" width="1" height="4" fill="#0000ff"/>
<rect x="605" y="461" width="16" height="1" fill="#0000ff"/>
<rect x="605" y="461" width="1" height="15" fill="#0000ff"/>
<rect x="620" y="473" width="16" height="1" fill="#0000ff"/>
<rect x="620" y="461" width="1" height="13" fill="#0000ff"/>
<rect x="635" y="466" width="16" height="1" fill="#0000ff"/>
<rect x="635" y="466" width="1" height="8" fill="#0000ff"/>
<rect x="650" y="458" width="16" height="1" fill="#0000ff"/>
<rect x="650" y="458" width="1" height="9" fill="#0000ff"/>
<rect x="665" y="467" width="16" height="1" fill="#0000ff"/>
<rect x="665" y="458" width="1" height="10" fill="#0000ff"/>
<rect x="680" y="463" width="16" height="1" fill="#0000ff"/>
<rect x="680" y="463" width="1" height="5" fill="#0000ff"/>
<rect x="695" y="462" width="16" height="1" fill="#0000ff"/>
<rect x="695" y="462" width="1" height="2" fill="#0000ff"/>
<rect x="710" y="469" width="16" height="1" fill="#0000ff"/>
<rect x="710" y="462" width="1" height="8" fill="#0000ff"/>
<rect x="725" y="466" width="16" height="1" fill="#0000ff"/>
<rect x="725" y="466" width="1" height="4" fill="#0000ff"/>
<rect x="740" y="462" width="16" height="1" fill="#0000ff"/>
<rect x="740" y="462" width="1" height="5" fill="#0000ff"/>
<rect x="101" y="459" width="1" height="11" fill="#0000ff"/>
<rect x="116" y="464" width="1" height="11" fill="#0000ff"/>
<rect x="131" y="472" width="1" height="11" fill="#0000ff"/>
<rect x="146" y="461" width="1" height="11" fill="#0000ff"/>
<rect x="161" y="458" width="1" height="11" fill="#0000ff"/>
<rect x="177" y="458" width="1" height="11" fill="#0000ff"/>
<rect x="192" y="464" width="1" height="11" fill="#0000ff"/>
<rect x="207" y="460" width="1" height="11" fill="#0000ff"/>
<rect x="222" y="464" width="1" height="11" fill="#0000ff"/>
<rect x="237" y="459" width="1" height="11" fill="#0000ff"/>
<rect x="252" y="461" width="1" height="11" fill="#0000ff"/>
<rect x="267" y="465" width="1" height="11" fill="#0000ff"/>
<rect x="282" y="469" width="1" height="11" fill="#0000ff"/>
<rect x="297" y="451" width="1" height="11" fill="#0000ff"/>
<rect x="312" y="456" width="1" height="11" fill="#0000ff"/>
<rect x="327" y="465" width="1" height="11" fill="#0000ff"/>
<rect x="343" y="457" width="1" height="11" fill="#0000ff"/>
<rect x="358" y="467" width="1" height="11" fill="#0000ff"/>
<rect x="373" y="454" width="1" height="11" fill="#0000ff"/>
<rect x="388" y="462" width="1" height="11" fill="#0000ff"/>
<rect x="403" y="465" width="1" height="11" fill="#0000ff"/>
<rect x="418" y="460" width="1" height="11" fill="#0000ff"/>
<rect x="433" y="454" width="1" height="11" fill="#0000ff"/>
<rect x="448" y="465" width="1" height="11" fill="#0000ff"/>
<rect x="476" y="471" width="1" height="10" fill="#0000ff"/>
<rect x="491" y="460" width="1" height="10" fill="#0000ff"/>
<rect x="506" y="465" width="1" height="10" fill="#0000ff"/>
<rect x="522" y="461" width="1" height="10" fill="#0000ff"/>
<rect x="537" y="451" width="1" height="10" fill="#0000ff"/>
<rect x="552" y="458" width="1" height="10" fill="#0000ff"/>
<rect x="567" y="457" width="1" height="10" fill="#0000ff"/>
<rect x="582" y="467" width="1" height="10" fill="#0000ff"/>
<rect x="597" y="470" width="1" height="10" fill="#0000ff"/>
<rect x="612" y="456" width="1" height="10" fill="#0000ff"/>
<rect x="627" y="468" width="1" height="10" fill="#0000ff"/>
<rect x="642" y="461" width="1" height="10" fill="#0000ff"/>
<rect x="657" y="453" width="1" height="10" fill="#0000ff"/>
<rect x="672" y="462" width="1" height="10" fill="#0000ff"/>
<rect x="688" y="458" width="1" height="10" fill="#0000ff"/>
<rect x="703" y="457" width="1" height="10" fill="#0000ff"/>
<rect x="718" y="464" width="1" height="10" fill="#0000ff"/>
<rect x="733" y="461" width="1" height="10" fill="#0000ff"/>
<rect x="748" y="457" width="1" height="10" fill="#0000ff"/>
<rect x="453" y="470" width="1" height="13" fill="#0000ff"/>
<rect x="453" y="482" width="5" height="1" fill="#0000ff"/>
<rect x="457" y="418" width="1" height="79" fill="#0000ff"/>
<rect x="458" y="394" width="1" height="52" fill="#0000ff"/>
<rect x="459" y="418" width="1" height="67" fill="#0000ff"/>
<rect x="460" y="428" width="1" height="42" fill="#0000ff"/>
<rect x="461" y="445" width="1" height="37" fill="#0000ff"/>
<rect x="462" y="432" width="1" height="50" fill="#0000ff"/>
<rect x="463" y="437" width="1" height="47" fill="#0000ff"/>
<rect x="464" y="459" width="1" height="8" fill="#0000ff"/>
<rect x="464" y="466" width="8" height="1" fill="#0000ff"/>
<rect x="471" y="466" width="1" height="11" fill="#0000ff"/>
<rect x="466" y="458" width="1" height="17" fill="#0000ff"/>
<rect x="85" y="466" width="8" height="1" fill="#000000"/>
<rect x="98" y="466" width="8" height="1" fill="#000000"/>
<rect x="112" y="466" width="8" height="1" fill="#000000"/>
<rect x="125" y="466" width="8" height="1" fill="#000000"/>
<rect x="139" y="466" width="8" height="1" fill="#000000"/>
<rect x="153" y="466" width="8" height="1" fill="#000000"/>
<rect x="166" y="466" width="8" height="1" fill="#000000"/>
<rect x="180" y="466" width="8" height="1" fill="#000000"/>
<rect x="193" y="466" width="8" height="1" fill="#000000"/>
<rect x="207" y="466" width="8" height="1" fill="#000000"/>
<rect x="221" y="466" width="8" height="1" fill="#000000"/>
<rect x="234" y="466" width="8" height="1" fill="#000000"/>
<rect x="248" y="466" width="8" height="1" fill="#000000"/>
<rect x="261" y="466" width="8" height="1" fill="#000000"/>
<rect x="275" y="466" width="8" height="1" fill="#000000"/>
<rect x="289" y="466" width="7" height="1" fill="#000000"/>
<rect x="302" y="466" width="8" height="1" fill="#000000"/>
<rect x="316" y="466" width="8" height="1" fill="#000000"/>
<rect x="329" y="466" width="8" height="1" fill="#000000"/>
<rect x="343" y="466" width="8" height="1" fill="#000000"/>
<rect x="356" y="466" width="8" height="1" fill="#000000"/>
<rect x="370" y="466" width="8" height="1" fill="#000000"/>
<rect x="384" y="466" width="8" height="1" fill="#000000"/>
<rect x="397" y="466" width="8" height="1" fill="#000000"/>
<rect x="411" y="466" width="8" height="1" fill="#000000"/>
<rect x="424" y="466" width="8" height="1" fill="#000000"/>
<rect x="438" y="466" width="8" height="1" fill="#000000"/>
<rect x="452" y="466" width="8" height="1" fill="#000000"/>
<rect x="465" y="466" width="8" height="1" fill="#000000"/>
<rect x="479" y="466" width="8" height="1" fill="#000000"/>
<rect x="492" y="466" width="8" height="1" fill="#000000"/>
<rect x="506" y="466" width="8" height="1" fill="#000000"/>
<rect x="520" y="466" width="7" height="1" fill="#000000"/>
<rect x="533" y="466" width="8" height="1" fill="#000000"/>
<rect x="547" y="466" width="8" height="1" fill="#000000"/>
<rect x="560" y="466" width="8" height="1" fill="#000000"/>
<rect x="574" y="466" width="8" height="1" fill="#000000"/>
<rect x="588" y="466" width="7" height="1" fill="#000000"/>
<rect x="601" y="466" width="8" height="1" fill="#000000"/>
<rect x="615" y="466" width="8" height="1" fill="#000000"/>
<rect x="628" y="466" width="8" height="1" fill="#000000"/>
<rect x="642" y="466" width="8" height="1" fill="#000000"/>
<rect x="655" y="466" width="8" height="1" fill="#000000"/>
<rect x="669" y="466" width="8" height="1" fill="#000000"/>
<rect x="683" y="466" width="8" height="1" fill="#000000"/>
<rect x="696" y="466" width="8" height="1" fill="#000000"/>
<rect x="710" y="466" width="8" height="1" fill="#000000"/>
<rect x="723" y="466" width="8" height="1" fill="#000000"/>
<rect x="737" y="466" width="8" height="1" fill="#000000"/>
<rect x="751" y="466" width="8" height="1" fill="#000000"/>
<rect x="85" y="502" width="680" height="1" fill="#000000"/>
<rect x="85" y="611" width="680" height="1" fill="#000000"/>
<rect x="85" y="502" width="1" height="110" fill="#000000"/>
<rect x="764" y="502" width="1" height="110" fill="#000000"/>
<rect x="92" y="503" width="1" height="4" fill="#000000"/>
<rect x="92" y="607" width="1" height="4" fill="#000000"/>
<rect x="122" y="503" width="1" height="4" fill="#000000"/>
<rect x="122" y="607" width="1" height="4" fill="#000000"/>
<rect x="152" y="503" width="1" height="8" fill="#000000"/>
<rect x="152" y="603" width="1" height="8" fill="#000000"/>
<rect x="183" y="503" width="1" height="4" fill="#000000"/>
<rect x="183" y="607" width="1" height="4" fill="#000000"/>
<rect x="213" y="503" width="1" height="4" fill="#000000"/>
<rect x="213" y="607" width="1" height="4" fill="#000000"/>
<rect x="243" y="503" width="1" height="4" fill="#000000"/>
<rect x="243" y="607" width="1" height="4" fill="#000000"/>
<rect x="273" y="503" width="1" height="4" fill="#000000"/>
<rect x="273" y="607" width="1" height="4" fill="#000000"/>
<rect x="303" y="503" width="1" height="8" fill="#000000"/>
<rect x="303" y="603" width="1" height="8" fill="#000000"/>
<rect x="334" y="503" width="1" height="4" fill="#000000"/>
<rect x="334" y="607" width="1" height="4" fill="#000000"/>
<rect x="364" y="503" width="1" height="4" fill="#000000"/>
<rect x="364" y="607" width="1" height="4" fill="#000000"/>
<rect x="394" y="503" width="1" height="4" fill="#000000"/>
<rect x="394" y="607" width="1" height="4" fill="#000000"/>
<rect x="424" y="503" width="1" height="4" fill="#000000"/>
<rect x="424" y="607" width="1" height="4" fill="#000000"/>
<rect x="454" y="503" width="1" height="8" fill="#000000"/>
<rect x="454" y="603" width="1" height="8" fill="#000000"/>
<rect x="484" y="503" width="1" height="4" fill="#000000"/>
<rect x="484" y="607" width="1" height="4" fill="#000000"/>
<rect x="515" y="503" width="1" height="4" fill="#000000"/>
<rect x="515" y="607" width="1" height="4" fill="#000000"/>
<rect x="545" y="503" width="1" height="4" fill="#000000"/>
<rect x="545" y="607" width="1" height="4" fill="#000000"/>
<rect x="575" y="503" width="1" height="4" fill="#000000"/>
<rect x="575" y="607" width="1" height="4" fill="#000000"/>
<rect x="605" y="503" width="1" height="8" fill="#000000"/>
<rect x="605" y="603" width="1" height="8" fill="#000000"/>
<rect x="635" y="503" width="1" height="4" fill="#000000"/>
<rect x="635" y="607" width="1" height="4" fill="#000000"/>
<rect x="666" y="503" width="1" height="4" fill="#000000"/>
<rect x="666" y="607" width="1" height="4" fill="#000000"/>
<rect x="696" y="503" width="1" height="4" fill="#000000"/>
<rect x="696" y="607" width="1" height="4" fill="#000000"/>
<rect x="726" y="503" width="1" height="4" fill="#000000"/>
<rect x="726" y="607" width="1" height="4" fill="#000000"/>
<rect x="756" y="503" width="1" height="8" fill="#000000"/>
<rect x="756" y="603" width="1" height="8" fill="#000000"/>
<rect x="86" y="510" width="4" height="1" fill="#000000"/>
<rect x="760" y="510" width="4" height="1" fill="#000000"/>
<rect x="86" y="517" width="4" height="1" fill="#000000"/>
<rect x="760" y="517" width="4" height="1" fill="#000000"/>
<rect x="86" y="524" width="4" height="1" fill="#000000"/>
<rect x="760" y="524" width="4" height="1" fill="#000000"/>
<rect x="86" y="531" width="4" height="1" fill="#000000"/>
<rect x="760" y="531" width="4" height="1" fill="#000000"/>
<rect x="86" y="539" width="8" height="1" fill="#000000"/>
<rect x="756" y="539" width="8" height="1" fill="#000000"/>
<rect x="86" y="546" width="4" height="1" fill="#000000"/>
<rect x="760" y="546" width="4" height="1" fill="#000000"/>
<rect x="86" y="553" width="4" height="1" fill="#000000"/>
<rect x="760" y="553" width="4" height="1" fill="#000000"/>
<rect x="86" y="560" width="4" height="1" fill="#000000"/>
<rect x="760" y="560" width="4" height="1" fill="#000000"/>
<rect x="86" y="568" width="4" height="1" fill="#000000"/>
<rect x="760" y="568" width="4" height="1" fill="#000000"/>
<rect x="86" y="575" width="8" height="1" fill="#000000"/>
<rect x="756" y="575" width="8" height="1" fill="#000000"/>
<rect x="86" y="582" width="4" height="1" fill="#000000"/>
<rect x="760" y="582" width="4" height="1" fill="#000000"/>
<rect x="86" y="589" width="4" height="1" fill="#000000"/>
<rect x="760" y="589" width="4" height="1" fill="#000000"/>
<rect x="86" y="597" width="4" height="1" fill="#000000"/>
<rect x="760" y="597" width="4" height="1" fill="#000000"/>
<rect x="86" y="604" width="4" height="1" fill="#000000"/>
<rect x="760" y="604" width="4" height="1" fill="#000000"/>
<rect x="94" y="576" width="16" height="1" fill="#ff00ff"/>
<rect x="109" y="592" width="16" height="1" fill="#ff00ff"/>
<rect x="109" y="576" width="1" height="17" fill="#ff00ff"/>
<rect x="124" y="600" width="16" height="1" fill="#ff00ff"/>
<rect x="124" y="592" width="1" height="9" fill="#ff00ff"/>
<rect x="139" y="581" width="16" height="1" fill="#ff00ff"/>
<rect x="139" y="581" width="1" height="20" fill="#ff00ff"/>
<rect x="154" y="569" width="16" height="1" fill="#ff00ff"/>
<rect x="154" y="569" width="1" height="13" fill="#ff00ff"/>
<rect x="169" y="552" width="16" height="1" fill="#ff00ff"/>
<rect x="169" y="552" width="1" height="18" fill="#ff00ff"/>
<rect x="184" y="571" width="16" height="1" fill="#ff00ff"/>
<rect x="184" y="552" width="1" height="20" fill="#ff00ff"/>
<rect x="199" y="572" width="16" height="1" fill="#ff00ff"/>
<rect x="199" y="571" width="1" height="2" fill="#ff00ff"/>
<rect x="214" y="587" width="16" height="1" fill="#ff00ff"/>
<rect x="214" y="572" width="1" height="16" fill="#ff00ff"/>
<rect x="229" y="577" width="16" height="1" fill="#ff00ff"/>
<rect x="229" y="577" width="1" height="11" fill="#ff00ff"/>
<rect x="244" y="570" width="17" height="1" fill="#ff00ff"/>
<rect x="244" y="570" width="1" height="8" fill="#ff00ff"/>
<rect x="260" y="564" width="16" height="1" fill="#ff00ff"/>
<rect x="260" y="564" width="1" height="7" fill="#ff00ff"/>
<rect x="275" y="554" width="16" height="1" fill="#ff00ff"/>
<rect x="275" y="554" width="1" height="11" fill="#ff00ff"/>
<rect x="290" y="575" width="16" height="1" fill="#ff00ff"/>
<rect x="290" y="554" width="1" height="22" fill="#ff00ff"/>
<rect x="305" y="581" width="16" height="1" fill="#ff00ff"/>
<rect x="305" y="575" width="1" height="7" fill="#ff00ff"/>
<rect x="320" y="573" width="16" height="1" fill="#ff00ff"/>
<rect x="320" y="573" width="1" height="9" fill="#ff00ff"/>
<rect x="335" y="574" width="16" height="1" fill="#ff00ff"/>
<rect x="335" y="573" width="1" height="2" fill="#ff00ff"/>
<rect x="350" y="568" width="16" height="1" fill="#ff00ff"/>
<rect x="350" y="568" width="1" height="7" fill="#ff00ff"/>
<rect x="365" y="560" width="16" height="1" fill="#ff00ff"/>
<rect x="365" y="560" width="1" height="9" fill="#ff00ff"/>
<rect x="380" y="583" width="16" height="1" fill="#ff00ff"/>
<rect x="380" y="560" width="1" height="24" fill="#ff00ff"/>
<rect x="395" y="572" width="17" height="1" fill="#ff00ff"/>
<rect x="395" y="572" width="1" height="12" fill="#ff00ff"/>
<rect x="411" y="559" width="16" height="1" fill="#ff00ff"/>
<rect x="411" y="559" width="1" height="14" fill="#ff00ff"/>
<rect x="426" y="567" width="16" height="1" fill="#ff00ff"/>
<rect x="426" y="559" width="1" height="9" fill="#ff00ff"/>
<rect x="441" y="520" width="13" height="1" fill="#ff00ff"/>
<rect x="441" y="520" width="1" height="48" fill="#ff00ff"/>
<rect x="471" y="576" width="14" height="1" fill="#ff00ff"/>
<rect x="484" y="568" width="16" height="1" fill="#ff00ff"/>
<rect x="484" y="568" width="1" height="9" fill="#ff00ff"/>
<rect x="499" y="584" width="16" height="1" fill="#ff00ff"/>
<rect x="499" y="568" width="1" height="17" fill="#ff00ff"/>
<rect x="514" y="586" width="16" height="1" fill="#ff00ff"/>
<rect x="514" y="584" width="1" height="3" fill="#ff00ff"/>
<rect x="529" y="561" width="16" height="1" fill="#ff00ff"/>
<rect x="529" y="561" width="1" height="26" fill="#ff00ff"/>
<rect x="544" y="572" width="16" height="1" fill="#ff00ff"/>
<rect x="544" y="561" width="1" height="12" fill="#ff00ff"/>
<rect x="559" y="565" width="16" height="1" fill="#ff00ff"/>
<rect x="559" y="565" width="1" height="8" fill="#ff00ff"/>
<rect x="574" y="579" width="16" height="1" fill="#ff00ff"/>
<rect x="574" y="565" width="1" height="15" fill="#ff00ff"/>
<rect x="589" y="604" width="17" height="1" fill="#ff00ff"/>
<rect x="589" y="579" width="1" height="26" fill="#ff00ff"/>
<rect x="605" y="559" width="16" height="1" fill="#ff00ff"/>
<rect x="605" y="559" width="1" height="46" fill="#ff00ff"/>
<rect x="620" y="577" width="16" height="1" fill="#ff00ff"/>
<rect x="620" y="559" width="1" height="19" fill="#ff00ff"/>
<rect x="635" y="558" width="16" height="1" fill="#ff00ff"/>
<rect x="635" y="558" width="1" height="20" fill="#ff00ff"/>
<rect x="650" y="565" width="16" height="1" fill="#ff00ff"/>
<rect x="650" y="558" width="1" height="8" fill="#ff00ff"/>
<rect x="665" y="567" width="16" height="1" fill="#ff00ff"/>
<rect x="665" y="565" width="1" height="3" fill="#ff00ff"/>
<rect x="680" y="572" width="16" height="1" fill="#ff00ff"/>
<rect x="680" y="567" width="1" height="6" fill="#ff00ff"/>
<rect x="695" y="590" width="16" height="1" fill="#ff00ff"/>
<rect x="695" y="572" width="1" height="19" fill="#ff00ff"/>
<rect x="710" y="579" width="16" height="1" fill="#ff00ff"/>
<rect x="710" y="579" width="1" height="12" fill="#ff00ff"/>
<rect x="725" y="573" width="16" height="1" fill="#ff00ff"/>
<rect x="725" y="573" width="1" height="7" fill="#ff00ff"/>
<rect x="740" y="567" width="16" height="1" fill="#ff00ff"/>
<rect x="740" y="567" width="1" height="7" fill="#ff00ff"/>
<rect x="101" y="565" width="1" height="24" fill="#ff00ff"/>
<rect x="116" y="581" width="1" height="24" fill="#ff00ff"/>
<rect x="131" y="589" width="1" height="23" fill="#ff00ff"/>
<rect x="146" y="570" width="1" height="24" fill="#ff00ff"/>
<rect x="161" y="558" width="1" height="24" fill="#ff00ff"/>
<rect x="177" y="541" width="1" height="24" fill="#ff00ff"/>
<rect x="192" y="560" width="1" height="24" fill="#ff00ff"/>
<rect x="207" y="561" width="1" height="24" fill="#ff00ff"/>
<rect x="222" y="576" width="1" height="24" fill="#ff00ff"/>
<rect x="237" y="566" width="1" height="24" fill="#ff00ff"/>
<rect x="252" y="559" width="1" height="24" fill="#ff00ff"/>
<rect x="267" y="553" width="1" height="24" fill="#ff00ff"/>
<rect x="282" y="543" width="1" height="24" fill="#ff00ff"/>
<rect x="297" y="564" width="1" height="24" fill="#ff00ff"/>
<rect x="312" y="570" width="1" height="24" fill="#ff00ff"/>
<rect x="327" y="562" width="1" height="24" fill="#ff00ff"/>
<rect x="343" y="563" width="1" height="24" fill="#ff00ff"/>
<rect x="358" y="557" width="1" height="24" fill="#ff00ff"/>
<rect x="373" y="549" width="1" height="24" fill="#ff00ff"/>
<rect x="388" y="572" width="1" height="24" fill="#ff00ff"/>
<rect x="403" y="561" width="1" height="24" fill="#ff00ff"/>
<rect x="418" y="548" width="1" height="24" fill="#ff00ff"/>
<rect x="433" y="556" width="1" height="24" fill="#ff00ff"/>
<rect x="448" y="509" width="1" height="24" fill="#ff00ff"/>
<rect x="476" y="565" width="1" height="22" fill="#ff00ff"/>
<rect x="491" y="557" width="1" height="22" fill="#ff00ff"/>
<rect x="506" y="573" width="1" height="22" fill="#ff00ff"/>
<rect x="522" y="575" width="1" height="22" fill="#ff00ff"/>
<rect x="537" y="550" width="1" height="22" fill="#ff00ff"/>
<rect x="552" y="561" width="1" height="22" fill="#ff00ff"/>
<rect x="567" y="554" width="1" height="22" fill="#ff00ff"/>
<rect x="582" y="568" width="1" height="22" fill="#ff00ff"/>
<rect x="597" y="593" width="1" height="19" fill="#ff00ff"/>
<rect x="612" y="548" width="1" height="22" fill="#ff00ff"/>
<rect x="627" y="566" width="1" height="22" fill="#ff00ff"/>
<rect x="642" y="547" width="1" height="22" fill="#ff00ff"/>
<rect x="657" y="554" width="1" height="22" fill="#ff00ff"/>
<rect x="672" y="556" width="1" height="22" fill="#ff00ff"/>
<rect x="688" y="561" width="1" height="22" fill="#ff00ff"/>
<rect x="703" y="579" width="1" height="22" fill="#ff00ff"/>
<rect x="718" y="568" width="1" height="22" fill="#ff00ff"/>
<rect x="733" y="562" width="1" height="22" fill="#ff00ff"/>
<rect x="748" y="556" width="1" height="22" fill="#ff00ff"/>
<rect x="453" y="502" width="1" height="19" fill="#ff00ff"/>
<rect x="471" y="502" width="1" height="75" fill="#ff00ff"/>
<rect x="85" y="575" width="8" height="1" fill="#000000"/>
<rect x="98" y="575" width="8" height="1" fill="#000000"/>
<rect x="112" y="575" width="8" height="1" fill="#000000"/>
<rect x="125" y="575" width="8" height="1" fill="#000000"/>
<rect x="139" y="575" width="8" height="1" fill="#000000"/>
<rect x="153" y="575" width="8" height="1" fill="#000000"/>
<rect x="166" y="575" width="8" height="1" fill="#000000"/>
<rect x="180" y="575" width="8" height="1" fill="#000000"/>
<rect x="193" y="575" width="8" height="1" fill="#000000"/>
<rect x="207" y="575" width="8" height="1" fill="#000000"/>
<rect x="221" y="575" width="8" height="1" fill="#000000"/>
<rect x="234" y="575" width="8" height="1" fill="#000000"/>
<rect x="248" y="575" width="8" height="1" fill="#000000"/>
<rect x="261" y="575" width="8" height="1" fill="#000000"/>
<rect x="275" y="575" width="8" height="1" fill="#000000"/>
<rect x="289" y="575" width="7" height="1" fill="#000000"/>
<rect x="302" y="575" width="8" height="1" fill="#000000"/>
<rect x="316" y="575" width="8" height="1" fill="#000000"/>
<rect x="329" y="575" width="8" height="1" fill="#000000"/>
<rect x="343" y="575" width="8" height="1" fill="#000000"/>
<rect x="356" y="575" width="8" height="1" fill="#000000"/>
<rect x="370" y="575" width="8" height="1" fill="#000000"/>
<rect x="384" y="575" width="8" height="1" fill="#000000"/>
<rect x="397" y="575" width="8" height="1" fill="#000000"/>
<rect x="411" y="575" width="8" height="1" fill="#000000"/>
<rect x="424" y="575" width="8" height="1" fill="#000000"/>
<rect x="438" y="575" width="8" height="1" fill="#000000"/>
<rect x="452" y="575" width="8" height="1" fill="#000000"/>
<rect x="465" y="575" width="8" height="1" fill="#000000"/>
<rect x="479" y="575" width="8" height="1" fill="#000000"/>
<rect x="492" y="575" width="8" height="1" fill="#000000"/>
<rect x="506" y="575" width="8" height="1" fill="#000000"/>
<rect x="520" y="575" width="7" height="1" fill="#000000"/>
<rect x="533" y="575" width="8" height="1" fill="#000000"/>
<rect x="547" y="575" width="8" height="1" fill="#000000"/>
<rect x="560" y="575" width="8" height="1" fill="#000000"/>
<rect x="574" y="575" width="8" height="1" fill="#000000"/>
<rect x="588" y="575" width="7" height="1" fill="#000000"/>
<rect x="601" y="575" width="8" height="1" fill="#000000"/>
<rect x="615" y="575" width="8" height="1" fill="#000000"/>
<rect x="628" y="575" width="8" height="1" fill="#000000"/>
<rect x="642" y="575" width="8" height="1" fill="#000000"/>
<rect x="655" y="575" width="8" height="1" fill="#000000"/>
<rect x="669" y="575" width="8" height="1" fill="#000000"/>
<rect x="683" y="575" width="8" height="1" fill="#000000"/>
<rect x="696" y="575" width="8" height="1" fill="#000000"/>
<rect x="710" y="575" width="8" height="1" fill="#000000"/>
<rect x="723" y="575" width="8" height="1" fill="#000000"/>
<rect x="737" y="575" width="8" height="1" fill="#000000"/>
<rect x="751" y="575" width="8" height="1" fill="#000000"/>
</g>
<g opacity="0.999">
<text x="328.70 339.68 347.53 352.75 359.03 368.96 381.25 391.44 400.33 408.69 418.36 429.34 440.32 449.99 459.40 469.86 480.32 490.77 501.23 511.68 521.62" y="38.00" dy="0 0 0 0 0 -0.7 0.7 0 0 0 0 0 0 0 0 0 0 0 0 0 0" fill="#000000" stroke="#000000">Swift<tspan textLength="13.0" lengthAdjust="spacingAndGlyphs">-</tspan>BAT GRB 131117A</text>
<text x="89.63 100.61 113.15 125.18 134.59 143.74 152.10 159.68 169.09 179.55 188.96 197.59 206.74 216.15 225.03 234.18 241.24 248.30 258.23 265.29 272.35 282.28 291.43 297.70 301.88 308.94 318.88 326.98 334.30 343.19 352.86 361.22 368.80 377.69 386.58 395.73 405.14 411.67 418.73 428.66 437.81 445.13 453.24 462.91 471.79 479.11 484.34 488.52 495.58 505.52 513.62 520.94 530.09 540.02 549.43 555.97 561.19 566.42 573.48 583.41" y="60.00" fill="#000000" stroke="#000000">SN=5 or 10 sec binning light curve using the flight position</text>
<text x="159.19 165.47 175.40 187.95 196.84 205.46 212.00 219.06 228.73 238.14 247.03 256.70 266.89 275.78 284.14 291.46 298.00 303.49 310.55 320.48 330.15 338.25 345.83 353.15 358.38 368.31 380.86 389.75 397.59 405.69 414.84 424.25 432.62 440.46 448.30 457.71 467.65 476.01 485.42 495.88 506.33 516.79 528.81 540.84 551.29 563.32 575.34 585.80 595.21 604.62 615.08 622.92 630.76 641.22 649.06 656.90 667.36 675.20 683.04 691.93" y="655.00" dy="0 0 0 0 0 0 0 0 0 0 0 0 0 0 0 0 0 0 0 0 0 0 0 0 0 0 0 0 0 0 0 0 0 0 0 0 0 0 0 0 0 0 -0.7 0.7 0 -0.7 0.7 0 0 0 0 0 0 0 0 0 0 0 0 0" fill="#000000" stroke="#000000">Time since BAT trigger time [sec] (UT 2013<tspan textLength="13.0" lengthAdjust="spacingAndGlyphs">-</tspan>11<tspan textLength="13.0" lengthAdjust="spacingAndGlyphs">-</tspan>17T00:34:04.7)</text>
<text x="137.19 149.21 159.67 170.12" y="632.30" dy="-0.7 0.7 0 0" fill="#000000" stroke="#000000"><tspan textLength="13.0" lengthAdjust="spacingAndGlyphs">-</tspan>200</text>
<text x="288.14 300.16 310.62 321.07" y="632.30" dy="-0.7 0.7 0 0" fill="#000000" stroke="#000000"><tspan textLength="13.0" lengthAdjust="spacingAndGlyphs">-</tspan>100</text>
<text x="454.77" y="632.30" fill="#000000" stroke="#000000">0</text>
<text x="595.26 605.72 616.18" y="632.30" fill="#000000" stroke="#000000">100</text>
<text x="746.21 756.67 767.13" y="632.30" fill="#000000" stroke="#000000">200</text>
<text x="41.83 49.67 57.52 67.97" y="109.70" fill="#000000" stroke="#000000">0.01</text>
<text x="67.97" y="145.90" fill="#000000" stroke="#000000">0</text>
<text x="41.83 49.67 57.52 67.97" y="218.30" fill="#000000" stroke="#000000">0.01</text>
<text x="67.97" y="254.50" fill="#000000" stroke="#000000">0</text>
<text x="41.83 49.67 57.52 67.97" y="326.90" fill="#000000" stroke="#000000">0.01</text>
<text x="67.97" y="363.10" fill="#000000" stroke="#000000">0</text>
<text x="41.83 49.67 57.52 67.97" y="435.50" fill="#000000" stroke="#000000">0.01</text>
<text x="67.97" y="471.70" fill="#000000" stroke="#000000">0</text>
<text x="41.83 49.67 57.52 67.97" y="544.10" fill="#000000" stroke="#000000">0.01</text>
<text x="67.97" y="580.30" fill="#000000" stroke="#000000">0</text>
<text x="639.08 649.54 661.56 673.59 684.04 693.45 702.08 711.23 720.64" y="101.10" dy="0 0 -0.7 0.7 0 0 0 0 0" fill="#000000" stroke="#000000">15<tspan textLength="13.0" lengthAdjust="spacingAndGlyphs">-</tspan>25 keV</text>
<text x="639.08 649.54 661.56 673.59 684.04 693.45 702.08 711.23 720.64" y="209.70" dy="0 0 -0.7 0.7 0 0 0 0 0" fill="#ff0000" stroke="#ff0000">25<tspan textLength="13.0" lengthAdjust="spacingAndGlyphs">-</tspan>50 keV</text>
<text x="633.86 644.31 656.34 668.36 678.82 689.27 698.68 707.31 716.46 725.87" y="318.30" dy="0 0 -0.7 0.7 0 0 0 0 0 0" fill="#00ff00" stroke="#00ff00">50<tspan textLength="13.0" lengthAdjust="spacingAndGlyphs">-</tspan>100 keV</text>
<text x="628.63 639.08 649.54 661.56 673.59 684.04 694.50 703.91 712.54 721.69 731.10" y="426.90" dy="0 0 0 -0.7 0.7 0 0 0 0 0 0" fill="#0000ff" stroke="#0000ff">100<tspan textLength="13.0" lengthAdjust="spacingAndGlyphs">-</tspan>350 keV</text>
<text x="633.86 644.31 656.34 668.36 678.82 689.27 698.68 707.31 716.46 725.87" y="535.50" dy="0 0 -0.7 0.7 0 0 0 0 0 0" fill="#ff00ff" stroke="#ff00ff">15<tspan textLength="13.0" lengthAdjust="spacingAndGlyphs">-</tspan>350 keV</text>
<text transform="translate(22.50 339.90) rotate(-90)" x="-60.64 -50.19 -40.26 -30.32 -22.22 -14.64 -4.44 5.75 14.90 24.31 34.77 45.48 55.16 63.00" y="0" fill="#000000" stroke="#000000">Counts/sec/det</text>
</g>
</svg>
</body></html>
